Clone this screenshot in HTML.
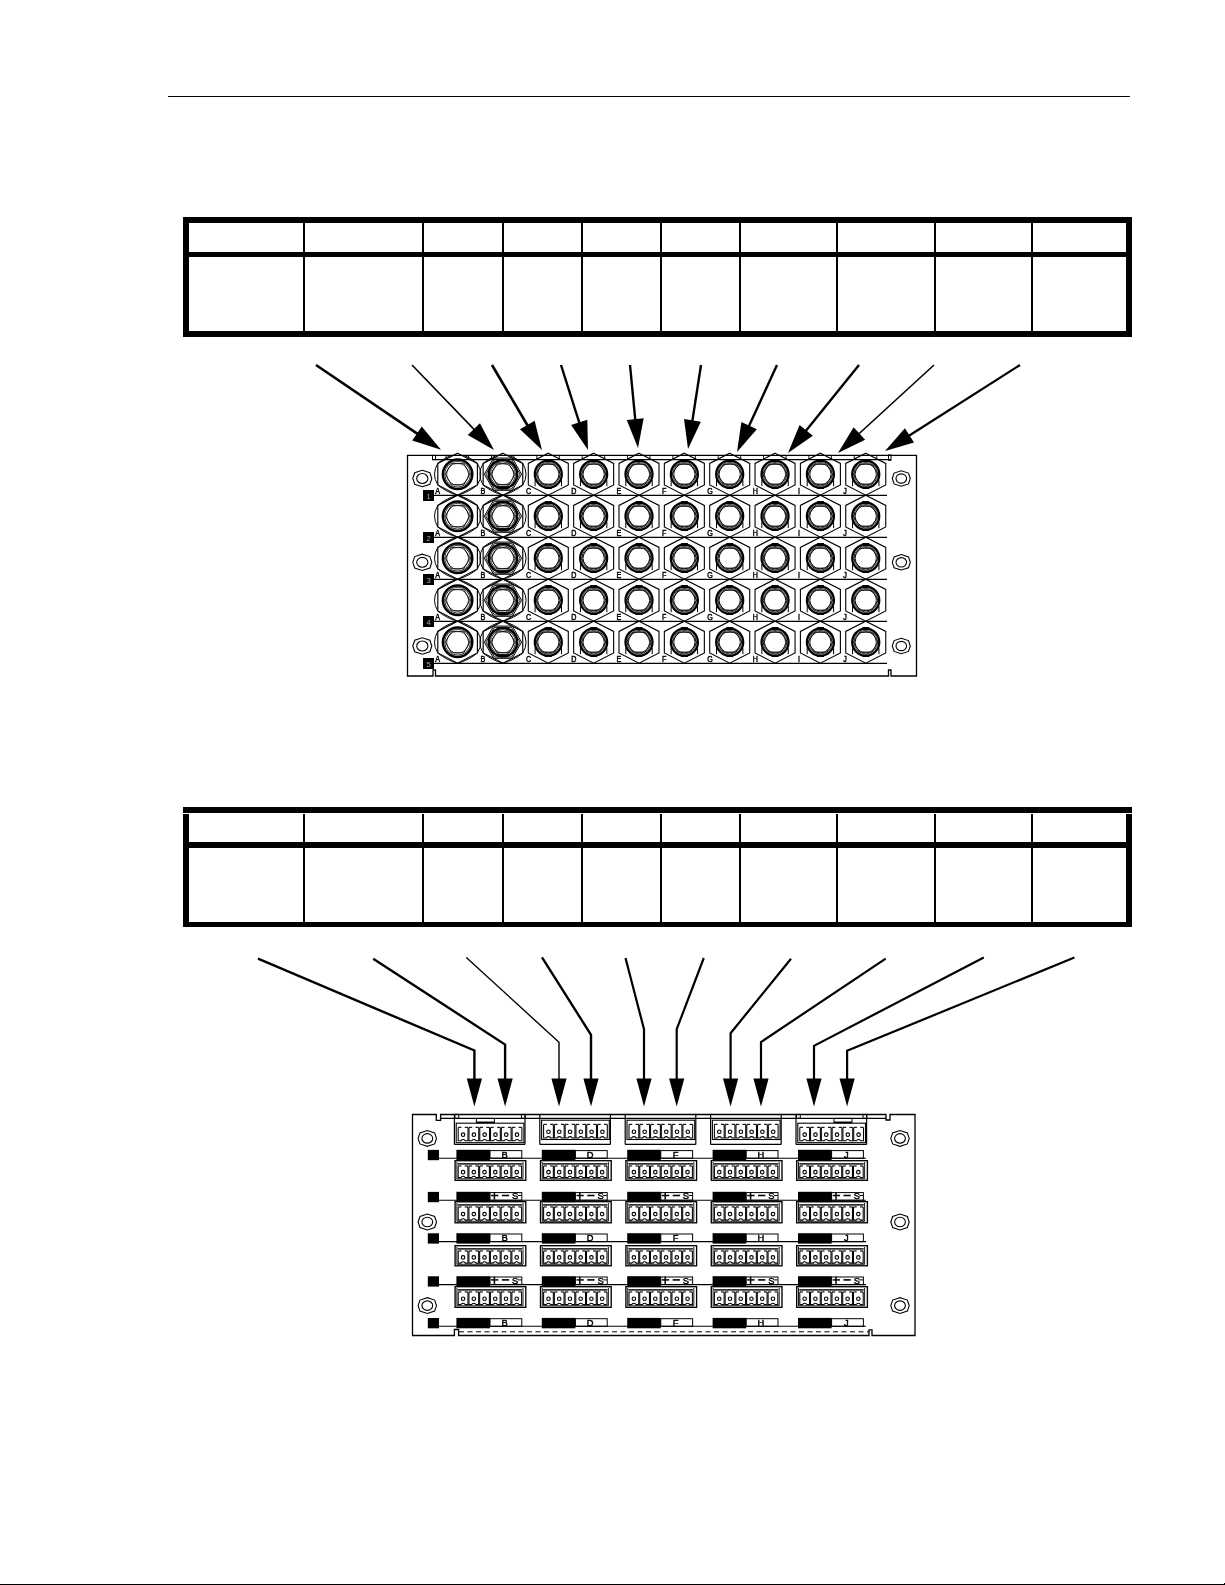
<!DOCTYPE html>
<html><head><meta charset="utf-8"><title>Panel</title>
<style>
html,body{margin:0;padding:0;background:#fff;}
body{width:1225px;height:1585px;overflow:hidden;position:relative;}
svg{position:absolute;left:0;top:0;filter:grayscale(100%);}
text{font-family:"Liberation Sans",sans-serif;}
</style></head><body>
<svg width="1225" height="1585" viewBox="0 0 1225 1585" shape-rendering="geometricPrecision">
<defs><clipPath id="p1clip"><rect x="407" y="456" width="510" height="220"/></clipPath></defs>
<rect x="168" y="96" width="962" height="1" fill="#000"/>
<rect x="0" y="1584" width="1225" height="1" fill="#000"/>
<rect x="1224" y="1583" width="1" height="1" fill="#000"/>
<rect x="183" y="217" width="949" height="6" fill="#000"/>
<rect x="183" y="223" width="6" height="114" fill="#000"/>
<rect x="1126" y="223" width="6" height="114" fill="#000"/>
<rect x="183" y="331" width="949" height="6" fill="#000"/>
<rect x="189" y="252" width="937" height="5" fill="#000"/>
<rect x="303" y="223" width="2" height="108" fill="#000"/>
<rect x="422" y="223" width="2" height="108" fill="#000"/>
<rect x="502" y="223" width="2" height="108" fill="#000"/>
<rect x="581" y="223" width="2" height="108" fill="#000"/>
<rect x="660" y="223" width="2" height="108" fill="#000"/>
<rect x="739" y="223" width="2" height="108" fill="#000"/>
<rect x="836" y="223" width="2" height="108" fill="#000"/>
<rect x="934" y="223" width="2" height="108" fill="#000"/>
<rect x="1031" y="223" width="2" height="108" fill="#000"/>
<rect x="183" y="807" width="949" height="6" fill="#000"/>
<rect x="183" y="814" width="6" height="113" fill="#000"/>
<rect x="1126" y="814" width="6" height="113" fill="#000"/>
<rect x="183" y="922" width="949" height="5" fill="#000"/>
<rect x="189" y="842" width="937" height="6" fill="#000"/>
<rect x="303" y="814" width="2" height="108" fill="#000"/>
<rect x="422" y="814" width="2" height="108" fill="#000"/>
<rect x="502" y="814" width="2" height="108" fill="#000"/>
<rect x="581" y="814" width="2" height="108" fill="#000"/>
<rect x="660" y="814" width="2" height="108" fill="#000"/>
<rect x="739" y="814" width="2" height="108" fill="#000"/>
<rect x="836" y="814" width="2" height="108" fill="#000"/>
<rect x="934" y="814" width="2" height="108" fill="#000"/>
<rect x="1031" y="814" width="2" height="108" fill="#000"/>
<polygon points="441,449.8 412.23,440.55 421.77,426.49" fill="#000"/>
<line x1="316" y1="365" x2="418.66" y2="434.64" stroke="#000" stroke-width="2.6"/>
<polygon points="494,450 467.75,435.03 479.98,423.23" fill="#000"/>
<line x1="412" y1="365" x2="475.25" y2="430.57" stroke="#000" stroke-width="1.6"/>
<polygon points="542,450 519.97,429.31 534.62,420.69" fill="#000"/>
<line x1="492" y1="365" x2="528.31" y2="426.73" stroke="#000" stroke-width="2.6"/>
<polygon points="588,450 571.12,424.93 587.32,419.79" fill="#000"/>
<line x1="561" y1="365" x2="579.83" y2="424.27" stroke="#000" stroke-width="2.4"/>
<polygon points="638,448 626.76,419.95 643.68,418.32" fill="#000"/>
<line x1="630" y1="365" x2="635.41" y2="421.12" stroke="#000" stroke-width="2.4"/>
<polygon points="688,449 684.04,419.04 700.84,421.64" fill="#000"/>
<line x1="701" y1="365" x2="692.13" y2="422.32" stroke="#000" stroke-width="2.4"/>
<polygon points="737,452 741.39,422.1 756.84,429.2" fill="#000"/>
<line x1="777" y1="365" x2="748.28" y2="427.47" stroke="#000" stroke-width="2.4"/>
<polygon points="788,453 799.59,425.09 812.83,435.77" fill="#000"/>
<line x1="859" y1="365" x2="804.95" y2="431.99" stroke="#000" stroke-width="2.4"/>
<polygon points="838,453 853.63,427.14 865.12,439.67" fill="#000"/>
<line x1="934" y1="365" x2="857.9" y2="434.76" stroke="#000" stroke-width="1.6"/>
<polygon points="885,451 904.89,428.25 914.03,442.59" fill="#000"/>
<line x1="1020" y1="365" x2="907.77" y2="436.49" stroke="#000" stroke-width="2.2"/>
<polyline points="258,958.7 474.4,1050.5 474.4,1080.6" fill="none" stroke="#000" stroke-width="2.4" stroke-linejoin="miter"/>
<polygon points="474.4,1106.6 466.8,1078.6 482,1078.6" fill="#000"/>
<polyline points="373.2,958.7 505.1,1044.6 505.1,1080.6" fill="none" stroke="#000" stroke-width="2.4" stroke-linejoin="miter"/>
<polygon points="505.1,1106.6 497.5,1078.6 512.7,1078.6" fill="#000"/>
<polyline points="466.3,957.4 559,1042.3 559,1080.6" fill="none" stroke="#000" stroke-width="1.4" stroke-linejoin="miter"/>
<polygon points="559,1106.6 551.4,1078.6 566.6,1078.6" fill="#000"/>
<polyline points="542,957.4 591,1034.8 591,1080.6" fill="none" stroke="#000" stroke-width="2.4" stroke-linejoin="miter"/>
<polygon points="591,1106.6 583.4,1078.6 598.6,1078.6" fill="#000"/>
<polyline points="625.5,958 644,1029.2 644,1080.6" fill="none" stroke="#000" stroke-width="2.2" stroke-linejoin="miter"/>
<polygon points="644,1106.6 636.4,1078.6 651.6,1078.6" fill="#000"/>
<polyline points="703.8,958 676.7,1029.2 676.7,1080.6" fill="none" stroke="#000" stroke-width="2.2" stroke-linejoin="miter"/>
<polygon points="676.7,1106.6 669.1,1078.6 684.3,1078.6" fill="#000"/>
<polyline points="791,958.7 730.6,1033.2 730.6,1080.6" fill="none" stroke="#000" stroke-width="2.2" stroke-linejoin="miter"/>
<polygon points="730.6,1106.6 723,1078.6 738.2,1078.6" fill="#000"/>
<polyline points="885.7,958.7 761,1042 761,1080.6" fill="none" stroke="#000" stroke-width="2.2" stroke-linejoin="miter"/>
<polygon points="761,1106.6 753.4,1078.6 768.6,1078.6" fill="#000"/>
<polyline points="983.8,957.5 814,1045.8 814,1080.6" fill="none" stroke="#000" stroke-width="2.2" stroke-linejoin="miter"/>
<polygon points="814,1106.6 806.4,1078.6 821.6,1078.6" fill="#000"/>
<polyline points="1074.4,957.5 847.1,1050.8 847.1,1080.6" fill="none" stroke="#000" stroke-width="2.2" stroke-linejoin="miter"/>
<polygon points="847.1,1106.6 839.5,1078.6 854.7,1078.6" fill="#000"/>
<path d="M407.5,455.4 H916.5 V676 H891 V670 H888.5 V676 H435.5 V670 H433 V676 H407.5 Z" fill="none" stroke="#000" stroke-width="1.3"/>
<line x1="432" y1="459.6" x2="891" y2="459.6" stroke="#000" stroke-width="1.1"/>
<line x1="446.1" y1="455.5" x2="446.1" y2="459.6" stroke="#000" stroke-width="0.9"/>
<line x1="468.6" y1="455.5" x2="468.6" y2="459.6" stroke="#000" stroke-width="0.9"/>
<line x1="491.45" y1="455.5" x2="491.45" y2="459.6" stroke="#000" stroke-width="0.9"/>
<line x1="513.95" y1="455.5" x2="513.95" y2="459.6" stroke="#000" stroke-width="0.9"/>
<line x1="536.8" y1="455.5" x2="536.8" y2="459.6" stroke="#000" stroke-width="0.9"/>
<line x1="559.3" y1="455.5" x2="559.3" y2="459.6" stroke="#000" stroke-width="0.9"/>
<line x1="582.15" y1="455.5" x2="582.15" y2="459.6" stroke="#000" stroke-width="0.9"/>
<line x1="604.65" y1="455.5" x2="604.65" y2="459.6" stroke="#000" stroke-width="0.9"/>
<line x1="627.5" y1="455.5" x2="627.5" y2="459.6" stroke="#000" stroke-width="0.9"/>
<line x1="650" y1="455.5" x2="650" y2="459.6" stroke="#000" stroke-width="0.9"/>
<line x1="672.85" y1="455.5" x2="672.85" y2="459.6" stroke="#000" stroke-width="0.9"/>
<line x1="695.35" y1="455.5" x2="695.35" y2="459.6" stroke="#000" stroke-width="0.9"/>
<line x1="718.2" y1="455.5" x2="718.2" y2="459.6" stroke="#000" stroke-width="0.9"/>
<line x1="740.7" y1="455.5" x2="740.7" y2="459.6" stroke="#000" stroke-width="0.9"/>
<line x1="763.55" y1="455.5" x2="763.55" y2="459.6" stroke="#000" stroke-width="0.9"/>
<line x1="786.05" y1="455.5" x2="786.05" y2="459.6" stroke="#000" stroke-width="0.9"/>
<line x1="808.9" y1="455.5" x2="808.9" y2="459.6" stroke="#000" stroke-width="0.9"/>
<line x1="831.4" y1="455.5" x2="831.4" y2="459.6" stroke="#000" stroke-width="0.9"/>
<line x1="854.25" y1="455.5" x2="854.25" y2="459.6" stroke="#000" stroke-width="0.9"/>
<line x1="876.75" y1="455.5" x2="876.75" y2="459.6" stroke="#000" stroke-width="0.9"/>
<rect x="432.5" y="455.4" width="3" height="4.2" fill="none" stroke="#000" stroke-width="1"/>
<rect x="888.5" y="455" width="2.5" height="5.3" fill="none" stroke="#000" stroke-width="1"/>
<polygon points="412.8,478.5 414.7,472.8 422.3,470.33 429.9,472.8 431.8,478.5 429.9,484.2 422.3,486.67 414.7,484.2" fill="none" stroke="#000" stroke-width="1.1"/>
<ellipse cx="422.3" cy="478.5" rx="5.6" ry="4.93" fill="none" stroke="#000" stroke-width="1.1"/>
<polygon points="892.3,478.5 894.1,473.1 901.3,470.76 908.5,473.1 910.3,478.5 908.5,483.9 901.3,486.24 894.1,483.9" fill="none" stroke="#000" stroke-width="1.1"/>
<ellipse cx="901.3" cy="478.5" rx="5.3" ry="4.66" fill="none" stroke="#000" stroke-width="1.1"/>
<polygon points="412.8,562.3 414.7,556.6 422.3,554.13 429.9,556.6 431.8,562.3 429.9,568 422.3,570.47 414.7,568" fill="none" stroke="#000" stroke-width="1.1"/>
<ellipse cx="422.3" cy="562.3" rx="5.6" ry="4.93" fill="none" stroke="#000" stroke-width="1.1"/>
<polygon points="892.3,562.3 894.1,556.9 901.3,554.56 908.5,556.9 910.3,562.3 908.5,567.7 901.3,570.04 894.1,567.7" fill="none" stroke="#000" stroke-width="1.1"/>
<ellipse cx="901.3" cy="562.3" rx="5.3" ry="4.66" fill="none" stroke="#000" stroke-width="1.1"/>
<polygon points="412.8,646 414.7,640.3 422.3,637.83 429.9,640.3 431.8,646 429.9,651.7 422.3,654.17 414.7,651.7" fill="none" stroke="#000" stroke-width="1.1"/>
<ellipse cx="422.3" cy="646" rx="5.6" ry="4.93" fill="none" stroke="#000" stroke-width="1.1"/>
<polygon points="892.3,646 894.1,640.6 901.3,638.26 908.5,640.6 910.3,646 908.5,651.4 901.3,653.74 894.1,651.4" fill="none" stroke="#000" stroke-width="1.1"/>
<ellipse cx="901.3" cy="646" rx="5.3" ry="4.66" fill="none" stroke="#000" stroke-width="1.1"/>
<line x1="434" y1="495.3" x2="887" y2="495.3" stroke="#000" stroke-width="1.2"/>
<rect x="423" y="490" width="11" height="11" fill="#000"/>
<text x="428.5" y="498.6" font-size="7.5" fill="#aaa" text-anchor="middle">1</text>
<polygon points="457.6,453.2 477.4,463.4 477.4,485 457.6,495.2 437.8,485 437.8,463.4" fill="none" stroke="#000" stroke-width="1.15"/>
<path d="M457.6,453.2 Q468.77,456.26 477.4,463.4 Q484,474.2 477.4,485 Q468.77,492.14 457.6,495.2 Q446.43,492.14 437.8,485 Q431.2,474.2 437.8,463.4 Q446.43,456.26 457.6,453.2" fill="none" stroke="#000" stroke-width="1" clip-path="url(#p1clip)"/>
<circle cx="457.6" cy="474.2" r="14.7" fill="none" stroke="#000" stroke-width="2.5"/>
<circle cx="457.6" cy="474.2" r="12.9" fill="none" stroke="#000" stroke-width="0.8"/>
<polygon points="469.8,474.2 463.7,484.77 451.5,484.77 445.4,474.2 451.5,463.63 463.7,463.63" fill="none" stroke="#000" stroke-width="0.8"/>
<circle cx="457.6" cy="474.2" r="11" fill="none" stroke="#000" stroke-width="0.8"/>
<text transform="translate(435.2,494.1) scale(0.85,1)" font-size="8.4" stroke="#000" stroke-width="0.45">A</text>
<polygon points="502.95,453.2 522.75,463.4 522.75,485 502.95,495.2 483.15,485 483.15,463.4" fill="none" stroke="#000" stroke-width="1.15"/>
<path d="M502.95,453.2 Q514.12,456.26 522.75,463.4 Q529.35,474.2 522.75,485 Q514.12,492.14 502.95,495.2 Q491.78,492.14 483.15,485 Q476.55,474.2 483.15,463.4 Q491.78,456.26 502.95,453.2" fill="none" stroke="#000" stroke-width="1" clip-path="url(#p1clip)"/>
<polygon points="521.55,474.2 512.25,490.31 493.65,490.31 484.35,474.2 493.65,458.09 512.25,458.09" fill="none" stroke="#000" stroke-width="1"/>
<polygon points="520.05,474.2 511.5,489.01 494.4,489.01 485.85,474.2 494.4,459.39 511.5,459.39" fill="none" stroke="#000" stroke-width="0.9"/>
<circle cx="502.95" cy="474.2" r="14.2" fill="none" stroke="#000" stroke-width="2.4"/>
<circle cx="502.95" cy="474.2" r="12.5" fill="none" stroke="#000" stroke-width="0.8"/>
<polygon points="514.95,474.2 508.95,484.59 496.95,484.59 490.95,474.2 496.95,463.81 508.95,463.81" fill="none" stroke="#000" stroke-width="0.8"/>
<circle cx="502.95" cy="474.2" r="10.8" fill="none" stroke="#000" stroke-width="0.8"/>
<rect x="497.95" y="486.2" width="10" height="3" fill="#000"/>
<text transform="translate(480.55,494.1) scale(0.85,1)" font-size="8.4" stroke="#000" stroke-width="0.45">B</text>
<polygon points="548.3,453.2 568.3,463.4 568.3,485 548.3,495.2 528.3,485 528.3,463.4" fill="none" stroke="#000" stroke-width="1.1"/>
<circle cx="548.3" cy="474.2" r="13.5" fill="none" stroke="#000" stroke-width="2.3"/>
<circle cx="548.3" cy="474.2" r="11.8" fill="none" stroke="#000" stroke-width="0.8"/>
<polygon points="560.6,474.2 554.45,484.07 542.15,484.07 536,474.2 542.15,464.33 554.45,464.33" fill="none" stroke="#000" stroke-width="0.8"/>
<circle cx="548.3" cy="474.2" r="10.6" fill="none" stroke="#000" stroke-width="0.9"/>
<rect x="544.8" y="459" width="7" height="3" fill="#000"/>
<rect x="544.8" y="486.8" width="7" height="2.2" fill="#000"/>
<line x1="535.1" y1="480.2" x2="535.1" y2="486.2" stroke="#000" stroke-width="1"/>
<line x1="561.5" y1="480.2" x2="561.5" y2="486.2" stroke="#000" stroke-width="1"/>
<text transform="translate(525.9,494.1) scale(0.85,1)" font-size="8.4" stroke="#000" stroke-width="0.45">C</text>
<polygon points="593.65,453.2 613.65,463.4 613.65,485 593.65,495.2 573.65,485 573.65,463.4" fill="none" stroke="#000" stroke-width="1.1"/>
<circle cx="593.65" cy="474.2" r="13.5" fill="none" stroke="#000" stroke-width="2.3"/>
<circle cx="593.65" cy="474.2" r="11.8" fill="none" stroke="#000" stroke-width="0.8"/>
<polygon points="605.95,474.2 599.8,484.07 587.5,484.07 581.35,474.2 587.5,464.33 599.8,464.33" fill="none" stroke="#000" stroke-width="0.8"/>
<circle cx="593.65" cy="474.2" r="10.6" fill="none" stroke="#000" stroke-width="0.9"/>
<rect x="590.15" y="459" width="7" height="3" fill="#000"/>
<rect x="590.15" y="486.8" width="7" height="2.2" fill="#000"/>
<line x1="580.45" y1="480.2" x2="580.45" y2="486.2" stroke="#000" stroke-width="1"/>
<line x1="606.85" y1="480.2" x2="606.85" y2="486.2" stroke="#000" stroke-width="1"/>
<text transform="translate(571.25,494.1) scale(0.85,1)" font-size="8.4" stroke="#000" stroke-width="0.45">D</text>
<polygon points="639,453.2 659,463.4 659,485 639,495.2 619,485 619,463.4" fill="none" stroke="#000" stroke-width="1.1"/>
<circle cx="639" cy="474.2" r="13.5" fill="none" stroke="#000" stroke-width="2.3"/>
<circle cx="639" cy="474.2" r="11.8" fill="none" stroke="#000" stroke-width="0.8"/>
<polygon points="651.3,474.2 645.15,484.07 632.85,484.07 626.7,474.2 632.85,464.33 645.15,464.33" fill="none" stroke="#000" stroke-width="0.8"/>
<circle cx="639" cy="474.2" r="10.6" fill="none" stroke="#000" stroke-width="0.9"/>
<rect x="635.5" y="459" width="7" height="3" fill="#000"/>
<rect x="635.5" y="486.8" width="7" height="2.2" fill="#000"/>
<line x1="625.8" y1="480.2" x2="625.8" y2="486.2" stroke="#000" stroke-width="1"/>
<line x1="652.2" y1="480.2" x2="652.2" y2="486.2" stroke="#000" stroke-width="1"/>
<text transform="translate(616.6,494.1) scale(0.85,1)" font-size="8.4" stroke="#000" stroke-width="0.45">E</text>
<polygon points="684.35,453.2 704.35,463.4 704.35,485 684.35,495.2 664.35,485 664.35,463.4" fill="none" stroke="#000" stroke-width="1.1"/>
<circle cx="684.35" cy="474.2" r="13.5" fill="none" stroke="#000" stroke-width="2.3"/>
<circle cx="684.35" cy="474.2" r="11.8" fill="none" stroke="#000" stroke-width="0.8"/>
<polygon points="696.65,474.2 690.5,484.07 678.2,484.07 672.05,474.2 678.2,464.33 690.5,464.33" fill="none" stroke="#000" stroke-width="0.8"/>
<circle cx="684.35" cy="474.2" r="10.6" fill="none" stroke="#000" stroke-width="0.9"/>
<rect x="680.85" y="459" width="7" height="3" fill="#000"/>
<rect x="680.85" y="486.8" width="7" height="2.2" fill="#000"/>
<line x1="671.15" y1="480.2" x2="671.15" y2="486.2" stroke="#000" stroke-width="1"/>
<line x1="697.55" y1="480.2" x2="697.55" y2="486.2" stroke="#000" stroke-width="1"/>
<text transform="translate(661.95,494.1) scale(0.85,1)" font-size="8.4" stroke="#000" stroke-width="0.45">F</text>
<polygon points="729.7,453.2 749.7,463.4 749.7,485 729.7,495.2 709.7,485 709.7,463.4" fill="none" stroke="#000" stroke-width="1.1"/>
<circle cx="729.7" cy="474.2" r="13.5" fill="none" stroke="#000" stroke-width="2.3"/>
<circle cx="729.7" cy="474.2" r="11.8" fill="none" stroke="#000" stroke-width="0.8"/>
<polygon points="742,474.2 735.85,484.07 723.55,484.07 717.4,474.2 723.55,464.33 735.85,464.33" fill="none" stroke="#000" stroke-width="0.8"/>
<circle cx="729.7" cy="474.2" r="10.6" fill="none" stroke="#000" stroke-width="0.9"/>
<rect x="726.2" y="459" width="7" height="3" fill="#000"/>
<rect x="726.2" y="486.8" width="7" height="2.2" fill="#000"/>
<line x1="716.5" y1="480.2" x2="716.5" y2="486.2" stroke="#000" stroke-width="1"/>
<line x1="742.9" y1="480.2" x2="742.9" y2="486.2" stroke="#000" stroke-width="1"/>
<text transform="translate(707.3,494.1) scale(0.85,1)" font-size="8.4" stroke="#000" stroke-width="0.45">G</text>
<polygon points="775.05,453.2 795.05,463.4 795.05,485 775.05,495.2 755.05,485 755.05,463.4" fill="none" stroke="#000" stroke-width="1.1"/>
<circle cx="775.05" cy="474.2" r="13.5" fill="none" stroke="#000" stroke-width="2.3"/>
<circle cx="775.05" cy="474.2" r="11.8" fill="none" stroke="#000" stroke-width="0.8"/>
<polygon points="787.35,474.2 781.2,484.07 768.9,484.07 762.75,474.2 768.9,464.33 781.2,464.33" fill="none" stroke="#000" stroke-width="0.8"/>
<circle cx="775.05" cy="474.2" r="10.6" fill="none" stroke="#000" stroke-width="0.9"/>
<rect x="771.55" y="459" width="7" height="3" fill="#000"/>
<rect x="771.55" y="486.8" width="7" height="2.2" fill="#000"/>
<line x1="761.85" y1="480.2" x2="761.85" y2="486.2" stroke="#000" stroke-width="1"/>
<line x1="788.25" y1="480.2" x2="788.25" y2="486.2" stroke="#000" stroke-width="1"/>
<text transform="translate(752.65,494.1) scale(0.85,1)" font-size="8.4" stroke="#000" stroke-width="0.45">H</text>
<polygon points="820.4,453.2 840.4,463.4 840.4,485 820.4,495.2 800.4,485 800.4,463.4" fill="none" stroke="#000" stroke-width="1.1"/>
<circle cx="820.4" cy="474.2" r="13.5" fill="none" stroke="#000" stroke-width="2.3"/>
<circle cx="820.4" cy="474.2" r="11.8" fill="none" stroke="#000" stroke-width="0.8"/>
<polygon points="832.7,474.2 826.55,484.07 814.25,484.07 808.1,474.2 814.25,464.33 826.55,464.33" fill="none" stroke="#000" stroke-width="0.8"/>
<circle cx="820.4" cy="474.2" r="10.6" fill="none" stroke="#000" stroke-width="0.9"/>
<rect x="816.9" y="459" width="7" height="3" fill="#000"/>
<rect x="816.9" y="486.8" width="7" height="2.2" fill="#000"/>
<line x1="807.2" y1="480.2" x2="807.2" y2="486.2" stroke="#000" stroke-width="1"/>
<line x1="833.6" y1="480.2" x2="833.6" y2="486.2" stroke="#000" stroke-width="1"/>
<text transform="translate(798,494.1) scale(0.85,1)" font-size="8.4" stroke="#000" stroke-width="0.45">I</text>
<polygon points="865.75,453.2 885.75,463.4 885.75,485 865.75,495.2 845.75,485 845.75,463.4" fill="none" stroke="#000" stroke-width="1.1"/>
<circle cx="865.75" cy="474.2" r="13.5" fill="none" stroke="#000" stroke-width="2.3"/>
<circle cx="865.75" cy="474.2" r="11.8" fill="none" stroke="#000" stroke-width="0.8"/>
<polygon points="878.05,474.2 871.9,484.07 859.6,484.07 853.45,474.2 859.6,464.33 871.9,464.33" fill="none" stroke="#000" stroke-width="0.8"/>
<circle cx="865.75" cy="474.2" r="10.6" fill="none" stroke="#000" stroke-width="0.9"/>
<rect x="862.25" y="459" width="7" height="3" fill="#000"/>
<rect x="862.25" y="486.8" width="7" height="2.2" fill="#000"/>
<line x1="852.55" y1="480.2" x2="852.55" y2="486.2" stroke="#000" stroke-width="1"/>
<line x1="878.95" y1="480.2" x2="878.95" y2="486.2" stroke="#000" stroke-width="1"/>
<text transform="translate(843.35,494.1) scale(0.85,1)" font-size="8.4" stroke="#000" stroke-width="0.45">J</text>
<line x1="434" y1="537.3" x2="887" y2="537.3" stroke="#000" stroke-width="1.2"/>
<rect x="423" y="532" width="11" height="11" fill="#000"/>
<text x="428.5" y="540.6" font-size="7.5" fill="#aaa" text-anchor="middle">2</text>
<polygon points="457.6,495.2 477.4,505.4 477.4,527 457.6,537.2 437.8,527 437.8,505.4" fill="none" stroke="#000" stroke-width="1.15"/>
<path d="M457.6,495.2 Q468.77,498.26 477.4,505.4 Q484,516.2 477.4,527 Q468.77,534.14 457.6,537.2 Q446.43,534.14 437.8,527 Q431.2,516.2 437.8,505.4 Q446.43,498.26 457.6,495.2" fill="none" stroke="#000" stroke-width="1" clip-path="url(#p1clip)"/>
<circle cx="457.6" cy="516.2" r="14.7" fill="none" stroke="#000" stroke-width="2.5"/>
<circle cx="457.6" cy="516.2" r="12.9" fill="none" stroke="#000" stroke-width="0.8"/>
<polygon points="469.8,516.2 463.7,526.77 451.5,526.77 445.4,516.2 451.5,505.63 463.7,505.63" fill="none" stroke="#000" stroke-width="0.8"/>
<circle cx="457.6" cy="516.2" r="11" fill="none" stroke="#000" stroke-width="0.8"/>
<text transform="translate(435.2,536.1) scale(0.85,1)" font-size="8.4" stroke="#000" stroke-width="0.45">A</text>
<polygon points="502.95,495.2 522.75,505.4 522.75,527 502.95,537.2 483.15,527 483.15,505.4" fill="none" stroke="#000" stroke-width="1.15"/>
<path d="M502.95,495.2 Q514.12,498.26 522.75,505.4 Q529.35,516.2 522.75,527 Q514.12,534.14 502.95,537.2 Q491.78,534.14 483.15,527 Q476.55,516.2 483.15,505.4 Q491.78,498.26 502.95,495.2" fill="none" stroke="#000" stroke-width="1" clip-path="url(#p1clip)"/>
<polygon points="521.55,516.2 512.25,532.31 493.65,532.31 484.35,516.2 493.65,500.09 512.25,500.09" fill="none" stroke="#000" stroke-width="1"/>
<polygon points="520.05,516.2 511.5,531.01 494.4,531.01 485.85,516.2 494.4,501.39 511.5,501.39" fill="none" stroke="#000" stroke-width="0.9"/>
<circle cx="502.95" cy="516.2" r="14.2" fill="none" stroke="#000" stroke-width="2.4"/>
<circle cx="502.95" cy="516.2" r="12.5" fill="none" stroke="#000" stroke-width="0.8"/>
<polygon points="514.95,516.2 508.95,526.59 496.95,526.59 490.95,516.2 496.95,505.81 508.95,505.81" fill="none" stroke="#000" stroke-width="0.8"/>
<circle cx="502.95" cy="516.2" r="10.8" fill="none" stroke="#000" stroke-width="0.8"/>
<rect x="497.95" y="528.2" width="10" height="3" fill="#000"/>
<text transform="translate(480.55,536.1) scale(0.85,1)" font-size="8.4" stroke="#000" stroke-width="0.45">B</text>
<polygon points="548.3,495.2 568.3,505.4 568.3,527 548.3,537.2 528.3,527 528.3,505.4" fill="none" stroke="#000" stroke-width="1.1"/>
<circle cx="548.3" cy="516.2" r="13.5" fill="none" stroke="#000" stroke-width="2.3"/>
<circle cx="548.3" cy="516.2" r="11.8" fill="none" stroke="#000" stroke-width="0.8"/>
<polygon points="560.6,516.2 554.45,526.07 542.15,526.07 536,516.2 542.15,506.33 554.45,506.33" fill="none" stroke="#000" stroke-width="0.8"/>
<circle cx="548.3" cy="516.2" r="10.6" fill="none" stroke="#000" stroke-width="0.9"/>
<rect x="544.8" y="501" width="7" height="3" fill="#000"/>
<rect x="544.8" y="528.8" width="7" height="2.2" fill="#000"/>
<line x1="535.1" y1="522.2" x2="535.1" y2="528.2" stroke="#000" stroke-width="1"/>
<line x1="561.5" y1="522.2" x2="561.5" y2="528.2" stroke="#000" stroke-width="1"/>
<text transform="translate(525.9,536.1) scale(0.85,1)" font-size="8.4" stroke="#000" stroke-width="0.45">C</text>
<polygon points="593.65,495.2 613.65,505.4 613.65,527 593.65,537.2 573.65,527 573.65,505.4" fill="none" stroke="#000" stroke-width="1.1"/>
<circle cx="593.65" cy="516.2" r="13.5" fill="none" stroke="#000" stroke-width="2.3"/>
<circle cx="593.65" cy="516.2" r="11.8" fill="none" stroke="#000" stroke-width="0.8"/>
<polygon points="605.95,516.2 599.8,526.07 587.5,526.07 581.35,516.2 587.5,506.33 599.8,506.33" fill="none" stroke="#000" stroke-width="0.8"/>
<circle cx="593.65" cy="516.2" r="10.6" fill="none" stroke="#000" stroke-width="0.9"/>
<rect x="590.15" y="501" width="7" height="3" fill="#000"/>
<rect x="590.15" y="528.8" width="7" height="2.2" fill="#000"/>
<line x1="580.45" y1="522.2" x2="580.45" y2="528.2" stroke="#000" stroke-width="1"/>
<line x1="606.85" y1="522.2" x2="606.85" y2="528.2" stroke="#000" stroke-width="1"/>
<text transform="translate(571.25,536.1) scale(0.85,1)" font-size="8.4" stroke="#000" stroke-width="0.45">D</text>
<polygon points="639,495.2 659,505.4 659,527 639,537.2 619,527 619,505.4" fill="none" stroke="#000" stroke-width="1.1"/>
<circle cx="639" cy="516.2" r="13.5" fill="none" stroke="#000" stroke-width="2.3"/>
<circle cx="639" cy="516.2" r="11.8" fill="none" stroke="#000" stroke-width="0.8"/>
<polygon points="651.3,516.2 645.15,526.07 632.85,526.07 626.7,516.2 632.85,506.33 645.15,506.33" fill="none" stroke="#000" stroke-width="0.8"/>
<circle cx="639" cy="516.2" r="10.6" fill="none" stroke="#000" stroke-width="0.9"/>
<rect x="635.5" y="501" width="7" height="3" fill="#000"/>
<rect x="635.5" y="528.8" width="7" height="2.2" fill="#000"/>
<line x1="625.8" y1="522.2" x2="625.8" y2="528.2" stroke="#000" stroke-width="1"/>
<line x1="652.2" y1="522.2" x2="652.2" y2="528.2" stroke="#000" stroke-width="1"/>
<text transform="translate(616.6,536.1) scale(0.85,1)" font-size="8.4" stroke="#000" stroke-width="0.45">E</text>
<polygon points="684.35,495.2 704.35,505.4 704.35,527 684.35,537.2 664.35,527 664.35,505.4" fill="none" stroke="#000" stroke-width="1.1"/>
<circle cx="684.35" cy="516.2" r="13.5" fill="none" stroke="#000" stroke-width="2.3"/>
<circle cx="684.35" cy="516.2" r="11.8" fill="none" stroke="#000" stroke-width="0.8"/>
<polygon points="696.65,516.2 690.5,526.07 678.2,526.07 672.05,516.2 678.2,506.33 690.5,506.33" fill="none" stroke="#000" stroke-width="0.8"/>
<circle cx="684.35" cy="516.2" r="10.6" fill="none" stroke="#000" stroke-width="0.9"/>
<rect x="680.85" y="501" width="7" height="3" fill="#000"/>
<rect x="680.85" y="528.8" width="7" height="2.2" fill="#000"/>
<line x1="671.15" y1="522.2" x2="671.15" y2="528.2" stroke="#000" stroke-width="1"/>
<line x1="697.55" y1="522.2" x2="697.55" y2="528.2" stroke="#000" stroke-width="1"/>
<text transform="translate(661.95,536.1) scale(0.85,1)" font-size="8.4" stroke="#000" stroke-width="0.45">F</text>
<polygon points="729.7,495.2 749.7,505.4 749.7,527 729.7,537.2 709.7,527 709.7,505.4" fill="none" stroke="#000" stroke-width="1.1"/>
<circle cx="729.7" cy="516.2" r="13.5" fill="none" stroke="#000" stroke-width="2.3"/>
<circle cx="729.7" cy="516.2" r="11.8" fill="none" stroke="#000" stroke-width="0.8"/>
<polygon points="742,516.2 735.85,526.07 723.55,526.07 717.4,516.2 723.55,506.33 735.85,506.33" fill="none" stroke="#000" stroke-width="0.8"/>
<circle cx="729.7" cy="516.2" r="10.6" fill="none" stroke="#000" stroke-width="0.9"/>
<rect x="726.2" y="501" width="7" height="3" fill="#000"/>
<rect x="726.2" y="528.8" width="7" height="2.2" fill="#000"/>
<line x1="716.5" y1="522.2" x2="716.5" y2="528.2" stroke="#000" stroke-width="1"/>
<line x1="742.9" y1="522.2" x2="742.9" y2="528.2" stroke="#000" stroke-width="1"/>
<text transform="translate(707.3,536.1) scale(0.85,1)" font-size="8.4" stroke="#000" stroke-width="0.45">G</text>
<polygon points="775.05,495.2 795.05,505.4 795.05,527 775.05,537.2 755.05,527 755.05,505.4" fill="none" stroke="#000" stroke-width="1.1"/>
<circle cx="775.05" cy="516.2" r="13.5" fill="none" stroke="#000" stroke-width="2.3"/>
<circle cx="775.05" cy="516.2" r="11.8" fill="none" stroke="#000" stroke-width="0.8"/>
<polygon points="787.35,516.2 781.2,526.07 768.9,526.07 762.75,516.2 768.9,506.33 781.2,506.33" fill="none" stroke="#000" stroke-width="0.8"/>
<circle cx="775.05" cy="516.2" r="10.6" fill="none" stroke="#000" stroke-width="0.9"/>
<rect x="771.55" y="501" width="7" height="3" fill="#000"/>
<rect x="771.55" y="528.8" width="7" height="2.2" fill="#000"/>
<line x1="761.85" y1="522.2" x2="761.85" y2="528.2" stroke="#000" stroke-width="1"/>
<line x1="788.25" y1="522.2" x2="788.25" y2="528.2" stroke="#000" stroke-width="1"/>
<text transform="translate(752.65,536.1) scale(0.85,1)" font-size="8.4" stroke="#000" stroke-width="0.45">H</text>
<polygon points="820.4,495.2 840.4,505.4 840.4,527 820.4,537.2 800.4,527 800.4,505.4" fill="none" stroke="#000" stroke-width="1.1"/>
<circle cx="820.4" cy="516.2" r="13.5" fill="none" stroke="#000" stroke-width="2.3"/>
<circle cx="820.4" cy="516.2" r="11.8" fill="none" stroke="#000" stroke-width="0.8"/>
<polygon points="832.7,516.2 826.55,526.07 814.25,526.07 808.1,516.2 814.25,506.33 826.55,506.33" fill="none" stroke="#000" stroke-width="0.8"/>
<circle cx="820.4" cy="516.2" r="10.6" fill="none" stroke="#000" stroke-width="0.9"/>
<rect x="816.9" y="501" width="7" height="3" fill="#000"/>
<rect x="816.9" y="528.8" width="7" height="2.2" fill="#000"/>
<line x1="807.2" y1="522.2" x2="807.2" y2="528.2" stroke="#000" stroke-width="1"/>
<line x1="833.6" y1="522.2" x2="833.6" y2="528.2" stroke="#000" stroke-width="1"/>
<text transform="translate(798,536.1) scale(0.85,1)" font-size="8.4" stroke="#000" stroke-width="0.45">I</text>
<polygon points="865.75,495.2 885.75,505.4 885.75,527 865.75,537.2 845.75,527 845.75,505.4" fill="none" stroke="#000" stroke-width="1.1"/>
<circle cx="865.75" cy="516.2" r="13.5" fill="none" stroke="#000" stroke-width="2.3"/>
<circle cx="865.75" cy="516.2" r="11.8" fill="none" stroke="#000" stroke-width="0.8"/>
<polygon points="878.05,516.2 871.9,526.07 859.6,526.07 853.45,516.2 859.6,506.33 871.9,506.33" fill="none" stroke="#000" stroke-width="0.8"/>
<circle cx="865.75" cy="516.2" r="10.6" fill="none" stroke="#000" stroke-width="0.9"/>
<rect x="862.25" y="501" width="7" height="3" fill="#000"/>
<rect x="862.25" y="528.8" width="7" height="2.2" fill="#000"/>
<line x1="852.55" y1="522.2" x2="852.55" y2="528.2" stroke="#000" stroke-width="1"/>
<line x1="878.95" y1="522.2" x2="878.95" y2="528.2" stroke="#000" stroke-width="1"/>
<text transform="translate(843.35,536.1) scale(0.85,1)" font-size="8.4" stroke="#000" stroke-width="0.45">J</text>
<line x1="434" y1="579.3" x2="887" y2="579.3" stroke="#000" stroke-width="1.2"/>
<rect x="423" y="574" width="11" height="11" fill="#000"/>
<text x="428.5" y="582.6" font-size="7.5" fill="#aaa" text-anchor="middle">3</text>
<polygon points="457.6,537.2 477.4,547.4 477.4,569 457.6,579.2 437.8,569 437.8,547.4" fill="none" stroke="#000" stroke-width="1.15"/>
<path d="M457.6,537.2 Q468.77,540.26 477.4,547.4 Q484,558.2 477.4,569 Q468.77,576.14 457.6,579.2 Q446.43,576.14 437.8,569 Q431.2,558.2 437.8,547.4 Q446.43,540.26 457.6,537.2" fill="none" stroke="#000" stroke-width="1" clip-path="url(#p1clip)"/>
<circle cx="457.6" cy="558.2" r="14.7" fill="none" stroke="#000" stroke-width="2.5"/>
<circle cx="457.6" cy="558.2" r="12.9" fill="none" stroke="#000" stroke-width="0.8"/>
<polygon points="469.8,558.2 463.7,568.77 451.5,568.77 445.4,558.2 451.5,547.63 463.7,547.63" fill="none" stroke="#000" stroke-width="0.8"/>
<circle cx="457.6" cy="558.2" r="11" fill="none" stroke="#000" stroke-width="0.8"/>
<text transform="translate(435.2,578.1) scale(0.85,1)" font-size="8.4" stroke="#000" stroke-width="0.45">A</text>
<polygon points="502.95,537.2 522.75,547.4 522.75,569 502.95,579.2 483.15,569 483.15,547.4" fill="none" stroke="#000" stroke-width="1.15"/>
<path d="M502.95,537.2 Q514.12,540.26 522.75,547.4 Q529.35,558.2 522.75,569 Q514.12,576.14 502.95,579.2 Q491.78,576.14 483.15,569 Q476.55,558.2 483.15,547.4 Q491.78,540.26 502.95,537.2" fill="none" stroke="#000" stroke-width="1" clip-path="url(#p1clip)"/>
<polygon points="521.55,558.2 512.25,574.31 493.65,574.31 484.35,558.2 493.65,542.09 512.25,542.09" fill="none" stroke="#000" stroke-width="1"/>
<polygon points="520.05,558.2 511.5,573.01 494.4,573.01 485.85,558.2 494.4,543.39 511.5,543.39" fill="none" stroke="#000" stroke-width="0.9"/>
<circle cx="502.95" cy="558.2" r="14.2" fill="none" stroke="#000" stroke-width="2.4"/>
<circle cx="502.95" cy="558.2" r="12.5" fill="none" stroke="#000" stroke-width="0.8"/>
<polygon points="514.95,558.2 508.95,568.59 496.95,568.59 490.95,558.2 496.95,547.81 508.95,547.81" fill="none" stroke="#000" stroke-width="0.8"/>
<circle cx="502.95" cy="558.2" r="10.8" fill="none" stroke="#000" stroke-width="0.8"/>
<rect x="497.95" y="570.2" width="10" height="3" fill="#000"/>
<text transform="translate(480.55,578.1) scale(0.85,1)" font-size="8.4" stroke="#000" stroke-width="0.45">B</text>
<polygon points="548.3,537.2 568.3,547.4 568.3,569 548.3,579.2 528.3,569 528.3,547.4" fill="none" stroke="#000" stroke-width="1.1"/>
<circle cx="548.3" cy="558.2" r="13.5" fill="none" stroke="#000" stroke-width="2.3"/>
<circle cx="548.3" cy="558.2" r="11.8" fill="none" stroke="#000" stroke-width="0.8"/>
<polygon points="560.6,558.2 554.45,568.07 542.15,568.07 536,558.2 542.15,548.33 554.45,548.33" fill="none" stroke="#000" stroke-width="0.8"/>
<circle cx="548.3" cy="558.2" r="10.6" fill="none" stroke="#000" stroke-width="0.9"/>
<rect x="544.8" y="543" width="7" height="3" fill="#000"/>
<rect x="544.8" y="570.8" width="7" height="2.2" fill="#000"/>
<line x1="535.1" y1="564.2" x2="535.1" y2="570.2" stroke="#000" stroke-width="1"/>
<line x1="561.5" y1="564.2" x2="561.5" y2="570.2" stroke="#000" stroke-width="1"/>
<text transform="translate(525.9,578.1) scale(0.85,1)" font-size="8.4" stroke="#000" stroke-width="0.45">C</text>
<polygon points="593.65,537.2 613.65,547.4 613.65,569 593.65,579.2 573.65,569 573.65,547.4" fill="none" stroke="#000" stroke-width="1.1"/>
<circle cx="593.65" cy="558.2" r="13.5" fill="none" stroke="#000" stroke-width="2.3"/>
<circle cx="593.65" cy="558.2" r="11.8" fill="none" stroke="#000" stroke-width="0.8"/>
<polygon points="605.95,558.2 599.8,568.07 587.5,568.07 581.35,558.2 587.5,548.33 599.8,548.33" fill="none" stroke="#000" stroke-width="0.8"/>
<circle cx="593.65" cy="558.2" r="10.6" fill="none" stroke="#000" stroke-width="0.9"/>
<rect x="590.15" y="543" width="7" height="3" fill="#000"/>
<rect x="590.15" y="570.8" width="7" height="2.2" fill="#000"/>
<line x1="580.45" y1="564.2" x2="580.45" y2="570.2" stroke="#000" stroke-width="1"/>
<line x1="606.85" y1="564.2" x2="606.85" y2="570.2" stroke="#000" stroke-width="1"/>
<text transform="translate(571.25,578.1) scale(0.85,1)" font-size="8.4" stroke="#000" stroke-width="0.45">D</text>
<polygon points="639,537.2 659,547.4 659,569 639,579.2 619,569 619,547.4" fill="none" stroke="#000" stroke-width="1.1"/>
<circle cx="639" cy="558.2" r="13.5" fill="none" stroke="#000" stroke-width="2.3"/>
<circle cx="639" cy="558.2" r="11.8" fill="none" stroke="#000" stroke-width="0.8"/>
<polygon points="651.3,558.2 645.15,568.07 632.85,568.07 626.7,558.2 632.85,548.33 645.15,548.33" fill="none" stroke="#000" stroke-width="0.8"/>
<circle cx="639" cy="558.2" r="10.6" fill="none" stroke="#000" stroke-width="0.9"/>
<rect x="635.5" y="543" width="7" height="3" fill="#000"/>
<rect x="635.5" y="570.8" width="7" height="2.2" fill="#000"/>
<line x1="625.8" y1="564.2" x2="625.8" y2="570.2" stroke="#000" stroke-width="1"/>
<line x1="652.2" y1="564.2" x2="652.2" y2="570.2" stroke="#000" stroke-width="1"/>
<text transform="translate(616.6,578.1) scale(0.85,1)" font-size="8.4" stroke="#000" stroke-width="0.45">E</text>
<polygon points="684.35,537.2 704.35,547.4 704.35,569 684.35,579.2 664.35,569 664.35,547.4" fill="none" stroke="#000" stroke-width="1.1"/>
<circle cx="684.35" cy="558.2" r="13.5" fill="none" stroke="#000" stroke-width="2.3"/>
<circle cx="684.35" cy="558.2" r="11.8" fill="none" stroke="#000" stroke-width="0.8"/>
<polygon points="696.65,558.2 690.5,568.07 678.2,568.07 672.05,558.2 678.2,548.33 690.5,548.33" fill="none" stroke="#000" stroke-width="0.8"/>
<circle cx="684.35" cy="558.2" r="10.6" fill="none" stroke="#000" stroke-width="0.9"/>
<rect x="680.85" y="543" width="7" height="3" fill="#000"/>
<rect x="680.85" y="570.8" width="7" height="2.2" fill="#000"/>
<line x1="671.15" y1="564.2" x2="671.15" y2="570.2" stroke="#000" stroke-width="1"/>
<line x1="697.55" y1="564.2" x2="697.55" y2="570.2" stroke="#000" stroke-width="1"/>
<text transform="translate(661.95,578.1) scale(0.85,1)" font-size="8.4" stroke="#000" stroke-width="0.45">F</text>
<polygon points="729.7,537.2 749.7,547.4 749.7,569 729.7,579.2 709.7,569 709.7,547.4" fill="none" stroke="#000" stroke-width="1.1"/>
<circle cx="729.7" cy="558.2" r="13.5" fill="none" stroke="#000" stroke-width="2.3"/>
<circle cx="729.7" cy="558.2" r="11.8" fill="none" stroke="#000" stroke-width="0.8"/>
<polygon points="742,558.2 735.85,568.07 723.55,568.07 717.4,558.2 723.55,548.33 735.85,548.33" fill="none" stroke="#000" stroke-width="0.8"/>
<circle cx="729.7" cy="558.2" r="10.6" fill="none" stroke="#000" stroke-width="0.9"/>
<rect x="726.2" y="543" width="7" height="3" fill="#000"/>
<rect x="726.2" y="570.8" width="7" height="2.2" fill="#000"/>
<line x1="716.5" y1="564.2" x2="716.5" y2="570.2" stroke="#000" stroke-width="1"/>
<line x1="742.9" y1="564.2" x2="742.9" y2="570.2" stroke="#000" stroke-width="1"/>
<text transform="translate(707.3,578.1) scale(0.85,1)" font-size="8.4" stroke="#000" stroke-width="0.45">G</text>
<polygon points="775.05,537.2 795.05,547.4 795.05,569 775.05,579.2 755.05,569 755.05,547.4" fill="none" stroke="#000" stroke-width="1.1"/>
<circle cx="775.05" cy="558.2" r="13.5" fill="none" stroke="#000" stroke-width="2.3"/>
<circle cx="775.05" cy="558.2" r="11.8" fill="none" stroke="#000" stroke-width="0.8"/>
<polygon points="787.35,558.2 781.2,568.07 768.9,568.07 762.75,558.2 768.9,548.33 781.2,548.33" fill="none" stroke="#000" stroke-width="0.8"/>
<circle cx="775.05" cy="558.2" r="10.6" fill="none" stroke="#000" stroke-width="0.9"/>
<rect x="771.55" y="543" width="7" height="3" fill="#000"/>
<rect x="771.55" y="570.8" width="7" height="2.2" fill="#000"/>
<line x1="761.85" y1="564.2" x2="761.85" y2="570.2" stroke="#000" stroke-width="1"/>
<line x1="788.25" y1="564.2" x2="788.25" y2="570.2" stroke="#000" stroke-width="1"/>
<text transform="translate(752.65,578.1) scale(0.85,1)" font-size="8.4" stroke="#000" stroke-width="0.45">H</text>
<polygon points="820.4,537.2 840.4,547.4 840.4,569 820.4,579.2 800.4,569 800.4,547.4" fill="none" stroke="#000" stroke-width="1.1"/>
<circle cx="820.4" cy="558.2" r="13.5" fill="none" stroke="#000" stroke-width="2.3"/>
<circle cx="820.4" cy="558.2" r="11.8" fill="none" stroke="#000" stroke-width="0.8"/>
<polygon points="832.7,558.2 826.55,568.07 814.25,568.07 808.1,558.2 814.25,548.33 826.55,548.33" fill="none" stroke="#000" stroke-width="0.8"/>
<circle cx="820.4" cy="558.2" r="10.6" fill="none" stroke="#000" stroke-width="0.9"/>
<rect x="816.9" y="543" width="7" height="3" fill="#000"/>
<rect x="816.9" y="570.8" width="7" height="2.2" fill="#000"/>
<line x1="807.2" y1="564.2" x2="807.2" y2="570.2" stroke="#000" stroke-width="1"/>
<line x1="833.6" y1="564.2" x2="833.6" y2="570.2" stroke="#000" stroke-width="1"/>
<text transform="translate(798,578.1) scale(0.85,1)" font-size="8.4" stroke="#000" stroke-width="0.45">I</text>
<polygon points="865.75,537.2 885.75,547.4 885.75,569 865.75,579.2 845.75,569 845.75,547.4" fill="none" stroke="#000" stroke-width="1.1"/>
<circle cx="865.75" cy="558.2" r="13.5" fill="none" stroke="#000" stroke-width="2.3"/>
<circle cx="865.75" cy="558.2" r="11.8" fill="none" stroke="#000" stroke-width="0.8"/>
<polygon points="878.05,558.2 871.9,568.07 859.6,568.07 853.45,558.2 859.6,548.33 871.9,548.33" fill="none" stroke="#000" stroke-width="0.8"/>
<circle cx="865.75" cy="558.2" r="10.6" fill="none" stroke="#000" stroke-width="0.9"/>
<rect x="862.25" y="543" width="7" height="3" fill="#000"/>
<rect x="862.25" y="570.8" width="7" height="2.2" fill="#000"/>
<line x1="852.55" y1="564.2" x2="852.55" y2="570.2" stroke="#000" stroke-width="1"/>
<line x1="878.95" y1="564.2" x2="878.95" y2="570.2" stroke="#000" stroke-width="1"/>
<text transform="translate(843.35,578.1) scale(0.85,1)" font-size="8.4" stroke="#000" stroke-width="0.45">J</text>
<line x1="434" y1="621.3" x2="887" y2="621.3" stroke="#000" stroke-width="1.2"/>
<rect x="423" y="616" width="11" height="11" fill="#000"/>
<text x="428.5" y="624.6" font-size="7.5" fill="#aaa" text-anchor="middle">4</text>
<polygon points="457.6,579.2 477.4,589.4 477.4,611 457.6,621.2 437.8,611 437.8,589.4" fill="none" stroke="#000" stroke-width="1.15"/>
<path d="M457.6,579.2 Q468.77,582.26 477.4,589.4 Q484,600.2 477.4,611 Q468.77,618.14 457.6,621.2 Q446.43,618.14 437.8,611 Q431.2,600.2 437.8,589.4 Q446.43,582.26 457.6,579.2" fill="none" stroke="#000" stroke-width="1" clip-path="url(#p1clip)"/>
<circle cx="457.6" cy="600.2" r="14.7" fill="none" stroke="#000" stroke-width="2.5"/>
<circle cx="457.6" cy="600.2" r="12.9" fill="none" stroke="#000" stroke-width="0.8"/>
<polygon points="469.8,600.2 463.7,610.77 451.5,610.77 445.4,600.2 451.5,589.63 463.7,589.63" fill="none" stroke="#000" stroke-width="0.8"/>
<circle cx="457.6" cy="600.2" r="11" fill="none" stroke="#000" stroke-width="0.8"/>
<text transform="translate(435.2,620.1) scale(0.85,1)" font-size="8.4" stroke="#000" stroke-width="0.45">A</text>
<polygon points="502.95,579.2 522.75,589.4 522.75,611 502.95,621.2 483.15,611 483.15,589.4" fill="none" stroke="#000" stroke-width="1.15"/>
<path d="M502.95,579.2 Q514.12,582.26 522.75,589.4 Q529.35,600.2 522.75,611 Q514.12,618.14 502.95,621.2 Q491.78,618.14 483.15,611 Q476.55,600.2 483.15,589.4 Q491.78,582.26 502.95,579.2" fill="none" stroke="#000" stroke-width="1" clip-path="url(#p1clip)"/>
<polygon points="521.55,600.2 512.25,616.31 493.65,616.31 484.35,600.2 493.65,584.09 512.25,584.09" fill="none" stroke="#000" stroke-width="1"/>
<polygon points="520.05,600.2 511.5,615.01 494.4,615.01 485.85,600.2 494.4,585.39 511.5,585.39" fill="none" stroke="#000" stroke-width="0.9"/>
<circle cx="502.95" cy="600.2" r="14.2" fill="none" stroke="#000" stroke-width="2.4"/>
<circle cx="502.95" cy="600.2" r="12.5" fill="none" stroke="#000" stroke-width="0.8"/>
<polygon points="514.95,600.2 508.95,610.59 496.95,610.59 490.95,600.2 496.95,589.81 508.95,589.81" fill="none" stroke="#000" stroke-width="0.8"/>
<circle cx="502.95" cy="600.2" r="10.8" fill="none" stroke="#000" stroke-width="0.8"/>
<rect x="497.95" y="612.2" width="10" height="3" fill="#000"/>
<text transform="translate(480.55,620.1) scale(0.85,1)" font-size="8.4" stroke="#000" stroke-width="0.45">B</text>
<polygon points="548.3,579.2 568.3,589.4 568.3,611 548.3,621.2 528.3,611 528.3,589.4" fill="none" stroke="#000" stroke-width="1.1"/>
<circle cx="548.3" cy="600.2" r="13.5" fill="none" stroke="#000" stroke-width="2.3"/>
<circle cx="548.3" cy="600.2" r="11.8" fill="none" stroke="#000" stroke-width="0.8"/>
<polygon points="560.6,600.2 554.45,610.07 542.15,610.07 536,600.2 542.15,590.33 554.45,590.33" fill="none" stroke="#000" stroke-width="0.8"/>
<circle cx="548.3" cy="600.2" r="10.6" fill="none" stroke="#000" stroke-width="0.9"/>
<rect x="544.8" y="585" width="7" height="3" fill="#000"/>
<rect x="544.8" y="612.8" width="7" height="2.2" fill="#000"/>
<line x1="535.1" y1="606.2" x2="535.1" y2="612.2" stroke="#000" stroke-width="1"/>
<line x1="561.5" y1="606.2" x2="561.5" y2="612.2" stroke="#000" stroke-width="1"/>
<text transform="translate(525.9,620.1) scale(0.85,1)" font-size="8.4" stroke="#000" stroke-width="0.45">C</text>
<polygon points="593.65,579.2 613.65,589.4 613.65,611 593.65,621.2 573.65,611 573.65,589.4" fill="none" stroke="#000" stroke-width="1.1"/>
<circle cx="593.65" cy="600.2" r="13.5" fill="none" stroke="#000" stroke-width="2.3"/>
<circle cx="593.65" cy="600.2" r="11.8" fill="none" stroke="#000" stroke-width="0.8"/>
<polygon points="605.95,600.2 599.8,610.07 587.5,610.07 581.35,600.2 587.5,590.33 599.8,590.33" fill="none" stroke="#000" stroke-width="0.8"/>
<circle cx="593.65" cy="600.2" r="10.6" fill="none" stroke="#000" stroke-width="0.9"/>
<rect x="590.15" y="585" width="7" height="3" fill="#000"/>
<rect x="590.15" y="612.8" width="7" height="2.2" fill="#000"/>
<line x1="580.45" y1="606.2" x2="580.45" y2="612.2" stroke="#000" stroke-width="1"/>
<line x1="606.85" y1="606.2" x2="606.85" y2="612.2" stroke="#000" stroke-width="1"/>
<text transform="translate(571.25,620.1) scale(0.85,1)" font-size="8.4" stroke="#000" stroke-width="0.45">D</text>
<polygon points="639,579.2 659,589.4 659,611 639,621.2 619,611 619,589.4" fill="none" stroke="#000" stroke-width="1.1"/>
<circle cx="639" cy="600.2" r="13.5" fill="none" stroke="#000" stroke-width="2.3"/>
<circle cx="639" cy="600.2" r="11.8" fill="none" stroke="#000" stroke-width="0.8"/>
<polygon points="651.3,600.2 645.15,610.07 632.85,610.07 626.7,600.2 632.85,590.33 645.15,590.33" fill="none" stroke="#000" stroke-width="0.8"/>
<circle cx="639" cy="600.2" r="10.6" fill="none" stroke="#000" stroke-width="0.9"/>
<rect x="635.5" y="585" width="7" height="3" fill="#000"/>
<rect x="635.5" y="612.8" width="7" height="2.2" fill="#000"/>
<line x1="625.8" y1="606.2" x2="625.8" y2="612.2" stroke="#000" stroke-width="1"/>
<line x1="652.2" y1="606.2" x2="652.2" y2="612.2" stroke="#000" stroke-width="1"/>
<text transform="translate(616.6,620.1) scale(0.85,1)" font-size="8.4" stroke="#000" stroke-width="0.45">E</text>
<polygon points="684.35,579.2 704.35,589.4 704.35,611 684.35,621.2 664.35,611 664.35,589.4" fill="none" stroke="#000" stroke-width="1.1"/>
<circle cx="684.35" cy="600.2" r="13.5" fill="none" stroke="#000" stroke-width="2.3"/>
<circle cx="684.35" cy="600.2" r="11.8" fill="none" stroke="#000" stroke-width="0.8"/>
<polygon points="696.65,600.2 690.5,610.07 678.2,610.07 672.05,600.2 678.2,590.33 690.5,590.33" fill="none" stroke="#000" stroke-width="0.8"/>
<circle cx="684.35" cy="600.2" r="10.6" fill="none" stroke="#000" stroke-width="0.9"/>
<rect x="680.85" y="585" width="7" height="3" fill="#000"/>
<rect x="680.85" y="612.8" width="7" height="2.2" fill="#000"/>
<line x1="671.15" y1="606.2" x2="671.15" y2="612.2" stroke="#000" stroke-width="1"/>
<line x1="697.55" y1="606.2" x2="697.55" y2="612.2" stroke="#000" stroke-width="1"/>
<text transform="translate(661.95,620.1) scale(0.85,1)" font-size="8.4" stroke="#000" stroke-width="0.45">F</text>
<polygon points="729.7,579.2 749.7,589.4 749.7,611 729.7,621.2 709.7,611 709.7,589.4" fill="none" stroke="#000" stroke-width="1.1"/>
<circle cx="729.7" cy="600.2" r="13.5" fill="none" stroke="#000" stroke-width="2.3"/>
<circle cx="729.7" cy="600.2" r="11.8" fill="none" stroke="#000" stroke-width="0.8"/>
<polygon points="742,600.2 735.85,610.07 723.55,610.07 717.4,600.2 723.55,590.33 735.85,590.33" fill="none" stroke="#000" stroke-width="0.8"/>
<circle cx="729.7" cy="600.2" r="10.6" fill="none" stroke="#000" stroke-width="0.9"/>
<rect x="726.2" y="585" width="7" height="3" fill="#000"/>
<rect x="726.2" y="612.8" width="7" height="2.2" fill="#000"/>
<line x1="716.5" y1="606.2" x2="716.5" y2="612.2" stroke="#000" stroke-width="1"/>
<line x1="742.9" y1="606.2" x2="742.9" y2="612.2" stroke="#000" stroke-width="1"/>
<text transform="translate(707.3,620.1) scale(0.85,1)" font-size="8.4" stroke="#000" stroke-width="0.45">G</text>
<polygon points="775.05,579.2 795.05,589.4 795.05,611 775.05,621.2 755.05,611 755.05,589.4" fill="none" stroke="#000" stroke-width="1.1"/>
<circle cx="775.05" cy="600.2" r="13.5" fill="none" stroke="#000" stroke-width="2.3"/>
<circle cx="775.05" cy="600.2" r="11.8" fill="none" stroke="#000" stroke-width="0.8"/>
<polygon points="787.35,600.2 781.2,610.07 768.9,610.07 762.75,600.2 768.9,590.33 781.2,590.33" fill="none" stroke="#000" stroke-width="0.8"/>
<circle cx="775.05" cy="600.2" r="10.6" fill="none" stroke="#000" stroke-width="0.9"/>
<rect x="771.55" y="585" width="7" height="3" fill="#000"/>
<rect x="771.55" y="612.8" width="7" height="2.2" fill="#000"/>
<line x1="761.85" y1="606.2" x2="761.85" y2="612.2" stroke="#000" stroke-width="1"/>
<line x1="788.25" y1="606.2" x2="788.25" y2="612.2" stroke="#000" stroke-width="1"/>
<text transform="translate(752.65,620.1) scale(0.85,1)" font-size="8.4" stroke="#000" stroke-width="0.45">H</text>
<polygon points="820.4,579.2 840.4,589.4 840.4,611 820.4,621.2 800.4,611 800.4,589.4" fill="none" stroke="#000" stroke-width="1.1"/>
<circle cx="820.4" cy="600.2" r="13.5" fill="none" stroke="#000" stroke-width="2.3"/>
<circle cx="820.4" cy="600.2" r="11.8" fill="none" stroke="#000" stroke-width="0.8"/>
<polygon points="832.7,600.2 826.55,610.07 814.25,610.07 808.1,600.2 814.25,590.33 826.55,590.33" fill="none" stroke="#000" stroke-width="0.8"/>
<circle cx="820.4" cy="600.2" r="10.6" fill="none" stroke="#000" stroke-width="0.9"/>
<rect x="816.9" y="585" width="7" height="3" fill="#000"/>
<rect x="816.9" y="612.8" width="7" height="2.2" fill="#000"/>
<line x1="807.2" y1="606.2" x2="807.2" y2="612.2" stroke="#000" stroke-width="1"/>
<line x1="833.6" y1="606.2" x2="833.6" y2="612.2" stroke="#000" stroke-width="1"/>
<text transform="translate(798,620.1) scale(0.85,1)" font-size="8.4" stroke="#000" stroke-width="0.45">I</text>
<polygon points="865.75,579.2 885.75,589.4 885.75,611 865.75,621.2 845.75,611 845.75,589.4" fill="none" stroke="#000" stroke-width="1.1"/>
<circle cx="865.75" cy="600.2" r="13.5" fill="none" stroke="#000" stroke-width="2.3"/>
<circle cx="865.75" cy="600.2" r="11.8" fill="none" stroke="#000" stroke-width="0.8"/>
<polygon points="878.05,600.2 871.9,610.07 859.6,610.07 853.45,600.2 859.6,590.33 871.9,590.33" fill="none" stroke="#000" stroke-width="0.8"/>
<circle cx="865.75" cy="600.2" r="10.6" fill="none" stroke="#000" stroke-width="0.9"/>
<rect x="862.25" y="585" width="7" height="3" fill="#000"/>
<rect x="862.25" y="612.8" width="7" height="2.2" fill="#000"/>
<line x1="852.55" y1="606.2" x2="852.55" y2="612.2" stroke="#000" stroke-width="1"/>
<line x1="878.95" y1="606.2" x2="878.95" y2="612.2" stroke="#000" stroke-width="1"/>
<text transform="translate(843.35,620.1) scale(0.85,1)" font-size="8.4" stroke="#000" stroke-width="0.45">J</text>
<line x1="434" y1="663.3" x2="887" y2="663.3" stroke="#000" stroke-width="1.2"/>
<rect x="423" y="658" width="11" height="11" fill="#000"/>
<text x="428.5" y="666.6" font-size="7.5" fill="#aaa" text-anchor="middle">5</text>
<polygon points="457.6,621.2 477.4,631.4 477.4,653 457.6,663.2 437.8,653 437.8,631.4" fill="none" stroke="#000" stroke-width="1.15"/>
<path d="M457.6,621.2 Q468.77,624.26 477.4,631.4 Q484,642.2 477.4,653 Q468.77,660.14 457.6,663.2 Q446.43,660.14 437.8,653 Q431.2,642.2 437.8,631.4 Q446.43,624.26 457.6,621.2" fill="none" stroke="#000" stroke-width="1" clip-path="url(#p1clip)"/>
<circle cx="457.6" cy="642.2" r="14.7" fill="none" stroke="#000" stroke-width="2.5"/>
<circle cx="457.6" cy="642.2" r="12.9" fill="none" stroke="#000" stroke-width="0.8"/>
<polygon points="469.8,642.2 463.7,652.77 451.5,652.77 445.4,642.2 451.5,631.63 463.7,631.63" fill="none" stroke="#000" stroke-width="0.8"/>
<circle cx="457.6" cy="642.2" r="11" fill="none" stroke="#000" stroke-width="0.8"/>
<text transform="translate(435.2,662.1) scale(0.85,1)" font-size="8.4" stroke="#000" stroke-width="0.45">A</text>
<polygon points="502.95,621.2 522.75,631.4 522.75,653 502.95,663.2 483.15,653 483.15,631.4" fill="none" stroke="#000" stroke-width="1.15"/>
<path d="M502.95,621.2 Q514.12,624.26 522.75,631.4 Q529.35,642.2 522.75,653 Q514.12,660.14 502.95,663.2 Q491.78,660.14 483.15,653 Q476.55,642.2 483.15,631.4 Q491.78,624.26 502.95,621.2" fill="none" stroke="#000" stroke-width="1" clip-path="url(#p1clip)"/>
<polygon points="521.55,642.2 512.25,658.31 493.65,658.31 484.35,642.2 493.65,626.09 512.25,626.09" fill="none" stroke="#000" stroke-width="1"/>
<polygon points="520.05,642.2 511.5,657.01 494.4,657.01 485.85,642.2 494.4,627.39 511.5,627.39" fill="none" stroke="#000" stroke-width="0.9"/>
<circle cx="502.95" cy="642.2" r="14.2" fill="none" stroke="#000" stroke-width="2.4"/>
<circle cx="502.95" cy="642.2" r="12.5" fill="none" stroke="#000" stroke-width="0.8"/>
<polygon points="514.95,642.2 508.95,652.59 496.95,652.59 490.95,642.2 496.95,631.81 508.95,631.81" fill="none" stroke="#000" stroke-width="0.8"/>
<circle cx="502.95" cy="642.2" r="10.8" fill="none" stroke="#000" stroke-width="0.8"/>
<rect x="497.95" y="654.2" width="10" height="3" fill="#000"/>
<text transform="translate(480.55,662.1) scale(0.85,1)" font-size="8.4" stroke="#000" stroke-width="0.45">B</text>
<polygon points="548.3,621.2 568.3,631.4 568.3,653 548.3,663.2 528.3,653 528.3,631.4" fill="none" stroke="#000" stroke-width="1.1"/>
<circle cx="548.3" cy="642.2" r="13.5" fill="none" stroke="#000" stroke-width="2.3"/>
<circle cx="548.3" cy="642.2" r="11.8" fill="none" stroke="#000" stroke-width="0.8"/>
<polygon points="560.6,642.2 554.45,652.07 542.15,652.07 536,642.2 542.15,632.33 554.45,632.33" fill="none" stroke="#000" stroke-width="0.8"/>
<circle cx="548.3" cy="642.2" r="10.6" fill="none" stroke="#000" stroke-width="0.9"/>
<rect x="544.8" y="627" width="7" height="3" fill="#000"/>
<rect x="544.8" y="654.8" width="7" height="2.2" fill="#000"/>
<line x1="535.1" y1="648.2" x2="535.1" y2="654.2" stroke="#000" stroke-width="1"/>
<line x1="561.5" y1="648.2" x2="561.5" y2="654.2" stroke="#000" stroke-width="1"/>
<text transform="translate(525.9,662.1) scale(0.85,1)" font-size="8.4" stroke="#000" stroke-width="0.45">C</text>
<polygon points="593.65,621.2 613.65,631.4 613.65,653 593.65,663.2 573.65,653 573.65,631.4" fill="none" stroke="#000" stroke-width="1.1"/>
<circle cx="593.65" cy="642.2" r="13.5" fill="none" stroke="#000" stroke-width="2.3"/>
<circle cx="593.65" cy="642.2" r="11.8" fill="none" stroke="#000" stroke-width="0.8"/>
<polygon points="605.95,642.2 599.8,652.07 587.5,652.07 581.35,642.2 587.5,632.33 599.8,632.33" fill="none" stroke="#000" stroke-width="0.8"/>
<circle cx="593.65" cy="642.2" r="10.6" fill="none" stroke="#000" stroke-width="0.9"/>
<rect x="590.15" y="627" width="7" height="3" fill="#000"/>
<rect x="590.15" y="654.8" width="7" height="2.2" fill="#000"/>
<line x1="580.45" y1="648.2" x2="580.45" y2="654.2" stroke="#000" stroke-width="1"/>
<line x1="606.85" y1="648.2" x2="606.85" y2="654.2" stroke="#000" stroke-width="1"/>
<text transform="translate(571.25,662.1) scale(0.85,1)" font-size="8.4" stroke="#000" stroke-width="0.45">D</text>
<polygon points="639,621.2 659,631.4 659,653 639,663.2 619,653 619,631.4" fill="none" stroke="#000" stroke-width="1.1"/>
<circle cx="639" cy="642.2" r="13.5" fill="none" stroke="#000" stroke-width="2.3"/>
<circle cx="639" cy="642.2" r="11.8" fill="none" stroke="#000" stroke-width="0.8"/>
<polygon points="651.3,642.2 645.15,652.07 632.85,652.07 626.7,642.2 632.85,632.33 645.15,632.33" fill="none" stroke="#000" stroke-width="0.8"/>
<circle cx="639" cy="642.2" r="10.6" fill="none" stroke="#000" stroke-width="0.9"/>
<rect x="635.5" y="627" width="7" height="3" fill="#000"/>
<rect x="635.5" y="654.8" width="7" height="2.2" fill="#000"/>
<line x1="625.8" y1="648.2" x2="625.8" y2="654.2" stroke="#000" stroke-width="1"/>
<line x1="652.2" y1="648.2" x2="652.2" y2="654.2" stroke="#000" stroke-width="1"/>
<text transform="translate(616.6,662.1) scale(0.85,1)" font-size="8.4" stroke="#000" stroke-width="0.45">E</text>
<polygon points="684.35,621.2 704.35,631.4 704.35,653 684.35,663.2 664.35,653 664.35,631.4" fill="none" stroke="#000" stroke-width="1.1"/>
<circle cx="684.35" cy="642.2" r="13.5" fill="none" stroke="#000" stroke-width="2.3"/>
<circle cx="684.35" cy="642.2" r="11.8" fill="none" stroke="#000" stroke-width="0.8"/>
<polygon points="696.65,642.2 690.5,652.07 678.2,652.07 672.05,642.2 678.2,632.33 690.5,632.33" fill="none" stroke="#000" stroke-width="0.8"/>
<circle cx="684.35" cy="642.2" r="10.6" fill="none" stroke="#000" stroke-width="0.9"/>
<rect x="680.85" y="627" width="7" height="3" fill="#000"/>
<rect x="680.85" y="654.8" width="7" height="2.2" fill="#000"/>
<line x1="671.15" y1="648.2" x2="671.15" y2="654.2" stroke="#000" stroke-width="1"/>
<line x1="697.55" y1="648.2" x2="697.55" y2="654.2" stroke="#000" stroke-width="1"/>
<text transform="translate(661.95,662.1) scale(0.85,1)" font-size="8.4" stroke="#000" stroke-width="0.45">F</text>
<polygon points="729.7,621.2 749.7,631.4 749.7,653 729.7,663.2 709.7,653 709.7,631.4" fill="none" stroke="#000" stroke-width="1.1"/>
<circle cx="729.7" cy="642.2" r="13.5" fill="none" stroke="#000" stroke-width="2.3"/>
<circle cx="729.7" cy="642.2" r="11.8" fill="none" stroke="#000" stroke-width="0.8"/>
<polygon points="742,642.2 735.85,652.07 723.55,652.07 717.4,642.2 723.55,632.33 735.85,632.33" fill="none" stroke="#000" stroke-width="0.8"/>
<circle cx="729.7" cy="642.2" r="10.6" fill="none" stroke="#000" stroke-width="0.9"/>
<rect x="726.2" y="627" width="7" height="3" fill="#000"/>
<rect x="726.2" y="654.8" width="7" height="2.2" fill="#000"/>
<line x1="716.5" y1="648.2" x2="716.5" y2="654.2" stroke="#000" stroke-width="1"/>
<line x1="742.9" y1="648.2" x2="742.9" y2="654.2" stroke="#000" stroke-width="1"/>
<text transform="translate(707.3,662.1) scale(0.85,1)" font-size="8.4" stroke="#000" stroke-width="0.45">G</text>
<polygon points="775.05,621.2 795.05,631.4 795.05,653 775.05,663.2 755.05,653 755.05,631.4" fill="none" stroke="#000" stroke-width="1.1"/>
<circle cx="775.05" cy="642.2" r="13.5" fill="none" stroke="#000" stroke-width="2.3"/>
<circle cx="775.05" cy="642.2" r="11.8" fill="none" stroke="#000" stroke-width="0.8"/>
<polygon points="787.35,642.2 781.2,652.07 768.9,652.07 762.75,642.2 768.9,632.33 781.2,632.33" fill="none" stroke="#000" stroke-width="0.8"/>
<circle cx="775.05" cy="642.2" r="10.6" fill="none" stroke="#000" stroke-width="0.9"/>
<rect x="771.55" y="627" width="7" height="3" fill="#000"/>
<rect x="771.55" y="654.8" width="7" height="2.2" fill="#000"/>
<line x1="761.85" y1="648.2" x2="761.85" y2="654.2" stroke="#000" stroke-width="1"/>
<line x1="788.25" y1="648.2" x2="788.25" y2="654.2" stroke="#000" stroke-width="1"/>
<text transform="translate(752.65,662.1) scale(0.85,1)" font-size="8.4" stroke="#000" stroke-width="0.45">H</text>
<polygon points="820.4,621.2 840.4,631.4 840.4,653 820.4,663.2 800.4,653 800.4,631.4" fill="none" stroke="#000" stroke-width="1.1"/>
<circle cx="820.4" cy="642.2" r="13.5" fill="none" stroke="#000" stroke-width="2.3"/>
<circle cx="820.4" cy="642.2" r="11.8" fill="none" stroke="#000" stroke-width="0.8"/>
<polygon points="832.7,642.2 826.55,652.07 814.25,652.07 808.1,642.2 814.25,632.33 826.55,632.33" fill="none" stroke="#000" stroke-width="0.8"/>
<circle cx="820.4" cy="642.2" r="10.6" fill="none" stroke="#000" stroke-width="0.9"/>
<rect x="816.9" y="627" width="7" height="3" fill="#000"/>
<rect x="816.9" y="654.8" width="7" height="2.2" fill="#000"/>
<line x1="807.2" y1="648.2" x2="807.2" y2="654.2" stroke="#000" stroke-width="1"/>
<line x1="833.6" y1="648.2" x2="833.6" y2="654.2" stroke="#000" stroke-width="1"/>
<text transform="translate(798,662.1) scale(0.85,1)" font-size="8.4" stroke="#000" stroke-width="0.45">I</text>
<polygon points="865.75,621.2 885.75,631.4 885.75,653 865.75,663.2 845.75,653 845.75,631.4" fill="none" stroke="#000" stroke-width="1.1"/>
<circle cx="865.75" cy="642.2" r="13.5" fill="none" stroke="#000" stroke-width="2.3"/>
<circle cx="865.75" cy="642.2" r="11.8" fill="none" stroke="#000" stroke-width="0.8"/>
<polygon points="878.05,642.2 871.9,652.07 859.6,652.07 853.45,642.2 859.6,632.33 871.9,632.33" fill="none" stroke="#000" stroke-width="0.8"/>
<circle cx="865.75" cy="642.2" r="10.6" fill="none" stroke="#000" stroke-width="0.9"/>
<rect x="862.25" y="627" width="7" height="3" fill="#000"/>
<rect x="862.25" y="654.8" width="7" height="2.2" fill="#000"/>
<line x1="852.55" y1="648.2" x2="852.55" y2="654.2" stroke="#000" stroke-width="1"/>
<line x1="878.95" y1="648.2" x2="878.95" y2="654.2" stroke="#000" stroke-width="1"/>
<text transform="translate(843.35,662.1) scale(0.85,1)" font-size="8.4" stroke="#000" stroke-width="0.45">J</text>
<path d="M412.5,1114.5 H436.3 V1120.4 H440.6 V1114.5 H886 V1120 H890 V1114.5 H915 V1335.5 H872 V1329.8 H869 V1335.5 H458.6 V1329.5 H454.4 V1335.5 H412.5 Z" fill="none" stroke="#000" stroke-width="1.3"/>
<line x1="440.6" y1="1118.4" x2="886" y2="1118.4" stroke="#000" stroke-width="1.1"/>
<line x1="459" y1="1331.8" x2="869" y2="1331.8" stroke="#000" stroke-width="1" stroke-dasharray="5,3.5"/>
<polygon points="418.1,1138.4 419.94,1132.88 427.3,1130.49 434.66,1132.88 436.5,1138.4 434.66,1143.92 427.3,1146.31 419.94,1143.92" fill="none" stroke="#000" stroke-width="1.1"/>
<ellipse cx="427.3" cy="1138.4" rx="5.4" ry="4.75" fill="none" stroke="#000" stroke-width="1.1"/>
<polygon points="890.8,1138.4 892.64,1132.88 900,1130.49 907.36,1132.88 909.2,1138.4 907.36,1143.92 900,1146.31 892.64,1143.92" fill="none" stroke="#000" stroke-width="1.1"/>
<ellipse cx="900" cy="1138.4" rx="5.4" ry="4.75" fill="none" stroke="#000" stroke-width="1.1"/>
<polygon points="418.1,1222 419.94,1216.48 427.3,1214.09 434.66,1216.48 436.5,1222 434.66,1227.52 427.3,1229.91 419.94,1227.52" fill="none" stroke="#000" stroke-width="1.1"/>
<ellipse cx="427.3" cy="1222" rx="5.4" ry="4.75" fill="none" stroke="#000" stroke-width="1.1"/>
<polygon points="890.8,1222 892.64,1216.48 900,1214.09 907.36,1216.48 909.2,1222 907.36,1227.52 900,1229.91 892.64,1227.52" fill="none" stroke="#000" stroke-width="1.1"/>
<ellipse cx="900" cy="1222" rx="5.4" ry="4.75" fill="none" stroke="#000" stroke-width="1.1"/>
<polygon points="418.1,1305.6 419.94,1300.08 427.3,1297.69 434.66,1300.08 436.5,1305.6 434.66,1311.12 427.3,1313.51 419.94,1311.12" fill="none" stroke="#000" stroke-width="1.1"/>
<ellipse cx="427.3" cy="1305.6" rx="5.4" ry="4.75" fill="none" stroke="#000" stroke-width="1.1"/>
<polygon points="890.8,1305.6 892.64,1300.08 900,1297.69 907.36,1300.08 909.2,1305.6 907.36,1311.12 900,1313.51 892.64,1311.12" fill="none" stroke="#000" stroke-width="1.1"/>
<ellipse cx="900" cy="1305.6" rx="5.4" ry="4.75" fill="none" stroke="#000" stroke-width="1.1"/>
<line x1="439" y1="1158.2" x2="866" y2="1158.2" stroke="#000" stroke-width="1.1"/>
<rect x="427.8" y="1149.9" width="11.2" height="10.3" fill="#000"/>
<line x1="439" y1="1200.2" x2="866" y2="1200.2" stroke="#000" stroke-width="1.1"/>
<rect x="427.8" y="1191.9" width="11.2" height="10.3" fill="#000"/>
<line x1="439" y1="1241.6" x2="866" y2="1241.6" stroke="#000" stroke-width="1.1"/>
<rect x="427.8" y="1233.3" width="11.2" height="10.3" fill="#000"/>
<line x1="439" y1="1284.6" x2="866" y2="1284.6" stroke="#000" stroke-width="1.1"/>
<rect x="427.8" y="1276.3" width="11.2" height="10.3" fill="#000"/>
<line x1="439" y1="1326.3" x2="866" y2="1326.3" stroke="#000" stroke-width="1.1"/>
<rect x="427.8" y="1318" width="11.2" height="10.3" fill="#000"/>
<line x1="454.4" y1="1114.5" x2="454.4" y2="1144.4" stroke="#000" stroke-width="1.2"/>
<line x1="525" y1="1114.5" x2="525" y2="1144.4" stroke="#000" stroke-width="1.2"/>
<line x1="454.4" y1="1144.4" x2="525" y2="1144.4" stroke="#000" stroke-width="1.2"/>
<rect x="454.9" y="1114.4" width="3.8" height="3.9" fill="none" stroke="#000" stroke-width="1"/>
<rect x="521.4" y="1114.4" width="3.8" height="3.9" fill="none" stroke="#000" stroke-width="1"/>
<rect x="476.4" y="1118.4" width="18" height="4" fill="none" stroke="#000" stroke-width="1"/>
<line x1="476.4" y1="1122.4" x2="494.4" y2="1122.4" stroke="#000" stroke-width="1.6"/>
<rect x="456.2" y="1123.2" width="67.7" height="19.5" fill="none" stroke="#000" stroke-width="1.1"/>
<path d="M458.2,1127.4 V1140.8 H460.89 Q463.09,1138.2 465.29,1140.8 H467.98 V1127.4" fill="none" stroke="#000" stroke-width="1.05"/>
<rect x="458.2" y="1126.8" width="3.23" height="1.1" fill="#000"/>
<rect x="464.75" y="1126.8" width="3.23" height="1.1" fill="#000"/>
<circle cx="463.09" cy="1134.64" r="1.75" fill="none" stroke="#000" stroke-width="1.15"/>
<path d="M468.98,1127.4 V1140.8 H471.68 Q473.88,1138.2 476.07,1140.8 H478.77 V1127.4" fill="none" stroke="#000" stroke-width="1.05"/>
<rect x="468.98" y="1126.8" width="3.23" height="1.1" fill="#000"/>
<rect x="475.53" y="1126.8" width="3.23" height="1.1" fill="#000"/>
<circle cx="473.88" cy="1134.64" r="1.75" fill="none" stroke="#000" stroke-width="1.15"/>
<path d="M479.77,1127.4 V1140.8 H482.46 Q484.66,1138.2 486.86,1140.8 H489.55 V1127.4" fill="none" stroke="#000" stroke-width="1.05"/>
<rect x="479.77" y="1126.8" width="3.23" height="1.1" fill="#000"/>
<rect x="486.31" y="1126.8" width="3.23" height="1.1" fill="#000"/>
<circle cx="484.66" cy="1134.64" r="1.75" fill="none" stroke="#000" stroke-width="1.15"/>
<path d="M490.55,1127.4 V1140.8 H493.24 Q495.44,1138.2 497.64,1140.8 H500.33 V1127.4" fill="none" stroke="#000" stroke-width="1.05"/>
<rect x="490.55" y="1126.8" width="3.23" height="1.1" fill="#000"/>
<rect x="497.1" y="1126.8" width="3.23" height="1.1" fill="#000"/>
<circle cx="495.44" cy="1134.64" r="1.75" fill="none" stroke="#000" stroke-width="1.15"/>
<path d="M501.33,1127.4 V1140.8 H504.02 Q506.22,1138.2 508.42,1140.8 H511.12 V1127.4" fill="none" stroke="#000" stroke-width="1.05"/>
<rect x="501.33" y="1126.8" width="3.23" height="1.1" fill="#000"/>
<rect x="507.88" y="1126.8" width="3.23" height="1.1" fill="#000"/>
<circle cx="506.22" cy="1134.64" r="1.75" fill="none" stroke="#000" stroke-width="1.15"/>
<path d="M512.12,1127.4 V1140.8 H514.81 Q517.01,1138.2 519.21,1140.8 H521.9 V1127.4" fill="none" stroke="#000" stroke-width="1.05"/>
<rect x="512.12" y="1126.8" width="3.23" height="1.1" fill="#000"/>
<rect x="518.66" y="1126.8" width="3.23" height="1.1" fill="#000"/>
<circle cx="517.01" cy="1134.64" r="1.75" fill="none" stroke="#000" stroke-width="1.15"/>
<rect x="455.1" y="1160.7" width="70.7" height="19.6" fill="none" stroke="#000" stroke-width="1.35"/>
<polyline points="456.9,1162 456.9,1178.8 523,1178.8 523,1162" fill="none" stroke="#000" stroke-width="0.9"/>
<rect x="457.7" y="1163.2" width="64.4" height="1.4" fill="#000"/>
<path d="M458.2,1166 V1177.6 H460.87 Q463.07,1175 465.27,1177.6 H467.93 V1166" fill="none" stroke="#000" stroke-width="1.05"/>
<rect x="458.2" y="1165.4" width="3.22" height="1.1" fill="#000"/>
<rect x="464.71" y="1165.4" width="3.22" height="1.1" fill="#000"/>
<circle cx="463.07" cy="1172.13" r="1.75" fill="none" stroke="#000" stroke-width="1.15"/>
<path d="M468.93,1166 V1177.6 H471.6 Q473.8,1175 476,1177.6 H478.67 V1166" fill="none" stroke="#000" stroke-width="1.05"/>
<rect x="468.93" y="1165.4" width="3.22" height="1.1" fill="#000"/>
<rect x="475.45" y="1165.4" width="3.22" height="1.1" fill="#000"/>
<circle cx="473.8" cy="1172.13" r="1.75" fill="none" stroke="#000" stroke-width="1.15"/>
<path d="M479.67,1166 V1177.6 H482.33 Q484.53,1175 486.73,1177.6 H489.4 V1166" fill="none" stroke="#000" stroke-width="1.05"/>
<rect x="479.67" y="1165.4" width="3.22" height="1.1" fill="#000"/>
<rect x="486.18" y="1165.4" width="3.22" height="1.1" fill="#000"/>
<circle cx="484.53" cy="1172.13" r="1.75" fill="none" stroke="#000" stroke-width="1.15"/>
<path d="M490.4,1166 V1177.6 H493.07 Q495.27,1175 497.47,1177.6 H500.13 V1166" fill="none" stroke="#000" stroke-width="1.05"/>
<rect x="490.4" y="1165.4" width="3.22" height="1.1" fill="#000"/>
<rect x="496.91" y="1165.4" width="3.22" height="1.1" fill="#000"/>
<circle cx="495.27" cy="1172.13" r="1.75" fill="none" stroke="#000" stroke-width="1.15"/>
<path d="M501.13,1166 V1177.6 H503.8 Q506,1175 508.2,1177.6 H510.87 V1166" fill="none" stroke="#000" stroke-width="1.05"/>
<rect x="501.13" y="1165.4" width="3.22" height="1.1" fill="#000"/>
<rect x="507.65" y="1165.4" width="3.22" height="1.1" fill="#000"/>
<circle cx="506" cy="1172.13" r="1.75" fill="none" stroke="#000" stroke-width="1.15"/>
<path d="M511.87,1166 V1177.6 H514.53 Q516.73,1175 518.93,1177.6 H521.6 V1166" fill="none" stroke="#000" stroke-width="1.05"/>
<rect x="511.87" y="1165.4" width="3.22" height="1.1" fill="#000"/>
<rect x="518.38" y="1165.4" width="3.22" height="1.1" fill="#000"/>
<circle cx="516.73" cy="1172.13" r="1.75" fill="none" stroke="#000" stroke-width="1.15"/>
<rect x="455.1" y="1201.7" width="70.7" height="21.1" fill="none" stroke="#000" stroke-width="1.35"/>
<polyline points="456.9,1203 456.9,1221.3 523,1221.3 523,1203" fill="none" stroke="#000" stroke-width="0.9"/>
<rect x="457.7" y="1204.2" width="64.4" height="1.4" fill="#000"/>
<path d="M458.2,1207 V1220.1 H460.87 Q463.07,1217.5 465.27,1220.1 H467.93 V1207" fill="none" stroke="#000" stroke-width="1.05"/>
<rect x="458.2" y="1206.4" width="3.22" height="1.1" fill="#000"/>
<rect x="464.71" y="1206.4" width="3.22" height="1.1" fill="#000"/>
<circle cx="463.07" cy="1214.06" r="1.75" fill="none" stroke="#000" stroke-width="1.15"/>
<path d="M468.93,1207 V1220.1 H471.6 Q473.8,1217.5 476,1220.1 H478.67 V1207" fill="none" stroke="#000" stroke-width="1.05"/>
<rect x="468.93" y="1206.4" width="3.22" height="1.1" fill="#000"/>
<rect x="475.45" y="1206.4" width="3.22" height="1.1" fill="#000"/>
<circle cx="473.8" cy="1214.06" r="1.75" fill="none" stroke="#000" stroke-width="1.15"/>
<path d="M479.67,1207 V1220.1 H482.33 Q484.53,1217.5 486.73,1220.1 H489.4 V1207" fill="none" stroke="#000" stroke-width="1.05"/>
<rect x="479.67" y="1206.4" width="3.22" height="1.1" fill="#000"/>
<rect x="486.18" y="1206.4" width="3.22" height="1.1" fill="#000"/>
<circle cx="484.53" cy="1214.06" r="1.75" fill="none" stroke="#000" stroke-width="1.15"/>
<path d="M490.4,1207 V1220.1 H493.07 Q495.27,1217.5 497.47,1220.1 H500.13 V1207" fill="none" stroke="#000" stroke-width="1.05"/>
<rect x="490.4" y="1206.4" width="3.22" height="1.1" fill="#000"/>
<rect x="496.91" y="1206.4" width="3.22" height="1.1" fill="#000"/>
<circle cx="495.27" cy="1214.06" r="1.75" fill="none" stroke="#000" stroke-width="1.15"/>
<path d="M501.13,1207 V1220.1 H503.8 Q506,1217.5 508.2,1220.1 H510.87 V1207" fill="none" stroke="#000" stroke-width="1.05"/>
<rect x="501.13" y="1206.4" width="3.22" height="1.1" fill="#000"/>
<rect x="507.65" y="1206.4" width="3.22" height="1.1" fill="#000"/>
<circle cx="506" cy="1214.06" r="1.75" fill="none" stroke="#000" stroke-width="1.15"/>
<path d="M511.87,1207 V1220.1 H514.53 Q516.73,1217.5 518.93,1220.1 H521.6 V1207" fill="none" stroke="#000" stroke-width="1.05"/>
<rect x="511.87" y="1206.4" width="3.22" height="1.1" fill="#000"/>
<rect x="518.38" y="1206.4" width="3.22" height="1.1" fill="#000"/>
<circle cx="516.73" cy="1214.06" r="1.75" fill="none" stroke="#000" stroke-width="1.15"/>
<rect x="455.1" y="1245.7" width="70.7" height="20.1" fill="none" stroke="#000" stroke-width="1.35"/>
<polyline points="456.9,1247 456.9,1264.3 523,1264.3 523,1247" fill="none" stroke="#000" stroke-width="0.9"/>
<rect x="457.7" y="1248.2" width="64.4" height="1.4" fill="#000"/>
<path d="M458.2,1251 V1263.1 H460.87 Q463.07,1260.5 465.27,1263.1 H467.93 V1251" fill="none" stroke="#000" stroke-width="1.05"/>
<rect x="458.2" y="1250.4" width="3.22" height="1.1" fill="#000"/>
<rect x="464.71" y="1250.4" width="3.22" height="1.1" fill="#000"/>
<circle cx="463.07" cy="1257.44" r="1.75" fill="none" stroke="#000" stroke-width="1.15"/>
<path d="M468.93,1251 V1263.1 H471.6 Q473.8,1260.5 476,1263.1 H478.67 V1251" fill="none" stroke="#000" stroke-width="1.05"/>
<rect x="468.93" y="1250.4" width="3.22" height="1.1" fill="#000"/>
<rect x="475.45" y="1250.4" width="3.22" height="1.1" fill="#000"/>
<circle cx="473.8" cy="1257.44" r="1.75" fill="none" stroke="#000" stroke-width="1.15"/>
<path d="M479.67,1251 V1263.1 H482.33 Q484.53,1260.5 486.73,1263.1 H489.4 V1251" fill="none" stroke="#000" stroke-width="1.05"/>
<rect x="479.67" y="1250.4" width="3.22" height="1.1" fill="#000"/>
<rect x="486.18" y="1250.4" width="3.22" height="1.1" fill="#000"/>
<circle cx="484.53" cy="1257.44" r="1.75" fill="none" stroke="#000" stroke-width="1.15"/>
<path d="M490.4,1251 V1263.1 H493.07 Q495.27,1260.5 497.47,1263.1 H500.13 V1251" fill="none" stroke="#000" stroke-width="1.05"/>
<rect x="490.4" y="1250.4" width="3.22" height="1.1" fill="#000"/>
<rect x="496.91" y="1250.4" width="3.22" height="1.1" fill="#000"/>
<circle cx="495.27" cy="1257.44" r="1.75" fill="none" stroke="#000" stroke-width="1.15"/>
<path d="M501.13,1251 V1263.1 H503.8 Q506,1260.5 508.2,1263.1 H510.87 V1251" fill="none" stroke="#000" stroke-width="1.05"/>
<rect x="501.13" y="1250.4" width="3.22" height="1.1" fill="#000"/>
<rect x="507.65" y="1250.4" width="3.22" height="1.1" fill="#000"/>
<circle cx="506" cy="1257.44" r="1.75" fill="none" stroke="#000" stroke-width="1.15"/>
<path d="M511.87,1251 V1263.1 H514.53 Q516.73,1260.5 518.93,1263.1 H521.6 V1251" fill="none" stroke="#000" stroke-width="1.05"/>
<rect x="511.87" y="1250.4" width="3.22" height="1.1" fill="#000"/>
<rect x="518.38" y="1250.4" width="3.22" height="1.1" fill="#000"/>
<circle cx="516.73" cy="1257.44" r="1.75" fill="none" stroke="#000" stroke-width="1.15"/>
<rect x="455.1" y="1286.7" width="70.7" height="20.6" fill="none" stroke="#000" stroke-width="1.35"/>
<polyline points="456.9,1288 456.9,1305.8 523,1305.8 523,1288" fill="none" stroke="#000" stroke-width="0.9"/>
<rect x="457.7" y="1289.2" width="64.4" height="1.4" fill="#000"/>
<path d="M458.2,1292 V1304.6 H460.87 Q463.07,1302 465.27,1304.6 H467.93 V1292" fill="none" stroke="#000" stroke-width="1.05"/>
<rect x="458.2" y="1291.4" width="3.22" height="1.1" fill="#000"/>
<rect x="464.71" y="1291.4" width="3.22" height="1.1" fill="#000"/>
<circle cx="463.07" cy="1298.75" r="1.75" fill="none" stroke="#000" stroke-width="1.15"/>
<path d="M468.93,1292 V1304.6 H471.6 Q473.8,1302 476,1304.6 H478.67 V1292" fill="none" stroke="#000" stroke-width="1.05"/>
<rect x="468.93" y="1291.4" width="3.22" height="1.1" fill="#000"/>
<rect x="475.45" y="1291.4" width="3.22" height="1.1" fill="#000"/>
<circle cx="473.8" cy="1298.75" r="1.75" fill="none" stroke="#000" stroke-width="1.15"/>
<path d="M479.67,1292 V1304.6 H482.33 Q484.53,1302 486.73,1304.6 H489.4 V1292" fill="none" stroke="#000" stroke-width="1.05"/>
<rect x="479.67" y="1291.4" width="3.22" height="1.1" fill="#000"/>
<rect x="486.18" y="1291.4" width="3.22" height="1.1" fill="#000"/>
<circle cx="484.53" cy="1298.75" r="1.75" fill="none" stroke="#000" stroke-width="1.15"/>
<path d="M490.4,1292 V1304.6 H493.07 Q495.27,1302 497.47,1304.6 H500.13 V1292" fill="none" stroke="#000" stroke-width="1.05"/>
<rect x="490.4" y="1291.4" width="3.22" height="1.1" fill="#000"/>
<rect x="496.91" y="1291.4" width="3.22" height="1.1" fill="#000"/>
<circle cx="495.27" cy="1298.75" r="1.75" fill="none" stroke="#000" stroke-width="1.15"/>
<path d="M501.13,1292 V1304.6 H503.8 Q506,1302 508.2,1304.6 H510.87 V1292" fill="none" stroke="#000" stroke-width="1.05"/>
<rect x="501.13" y="1291.4" width="3.22" height="1.1" fill="#000"/>
<rect x="507.65" y="1291.4" width="3.22" height="1.1" fill="#000"/>
<circle cx="506" cy="1298.75" r="1.75" fill="none" stroke="#000" stroke-width="1.15"/>
<path d="M511.87,1292 V1304.6 H514.53 Q516.73,1302 518.93,1304.6 H521.6 V1292" fill="none" stroke="#000" stroke-width="1.05"/>
<rect x="511.87" y="1291.4" width="3.22" height="1.1" fill="#000"/>
<rect x="518.38" y="1291.4" width="3.22" height="1.1" fill="#000"/>
<circle cx="516.73" cy="1298.75" r="1.75" fill="none" stroke="#000" stroke-width="1.15"/>
<rect x="456.4" y="1149.8" width="33.6" height="10.4" fill="#000"/>
<rect x="490" y="1150.6" width="31.8" height="7.6" fill="none" stroke="#000" stroke-width="1"/>
<text x="504.7" y="1157.7" font-size="9.3" text-anchor="middle" stroke="#000" stroke-width="0.45">B</text>
<rect x="456.4" y="1191.8" width="33.6" height="10.4" fill="#000"/>
<rect x="490" y="1192.6" width="31.8" height="7.6" fill="none" stroke="#000" stroke-width="1"/>
<line x1="491.1" y1="1195.5" x2="498.4" y2="1195.5" stroke="#000" stroke-width="1.5"/>
<line x1="494.4" y1="1192.2" x2="494.4" y2="1199.7" stroke="#000" stroke-width="1.5"/>
<line x1="501.9" y1="1195.5" x2="509.1" y2="1195.5" stroke="#000" stroke-width="1.6"/>
<text x="515.2" y="1199.3" font-size="9.4" text-anchor="middle" stroke="#000" stroke-width="0.45">S</text>
<line x1="517.9" y1="1195.5" x2="521.4" y2="1195.5" stroke="#000" stroke-width="1"/>
<rect x="456.4" y="1233.2" width="33.6" height="10.4" fill="#000"/>
<rect x="490" y="1234" width="31.8" height="7.6" fill="none" stroke="#000" stroke-width="1"/>
<text x="504.7" y="1241.1" font-size="9.3" text-anchor="middle" stroke="#000" stroke-width="0.45">B</text>
<rect x="456.4" y="1276.2" width="33.6" height="10.4" fill="#000"/>
<rect x="490" y="1277" width="31.8" height="7.6" fill="none" stroke="#000" stroke-width="1"/>
<line x1="491.1" y1="1279.9" x2="498.4" y2="1279.9" stroke="#000" stroke-width="1.5"/>
<line x1="494.4" y1="1276.6" x2="494.4" y2="1284.1" stroke="#000" stroke-width="1.5"/>
<line x1="501.9" y1="1279.9" x2="509.1" y2="1279.9" stroke="#000" stroke-width="1.6"/>
<text x="515.2" y="1283.7" font-size="9.4" text-anchor="middle" stroke="#000" stroke-width="0.45">S</text>
<line x1="517.9" y1="1279.9" x2="521.4" y2="1279.9" stroke="#000" stroke-width="1"/>
<rect x="456.4" y="1317.9" width="33.6" height="10.4" fill="#000"/>
<rect x="490" y="1318.7" width="31.8" height="7.6" fill="none" stroke="#000" stroke-width="1"/>
<text x="504.7" y="1325.8" font-size="9.3" text-anchor="middle" stroke="#000" stroke-width="0.45">B</text>
<line x1="539.8" y1="1114.5" x2="539.8" y2="1144.4" stroke="#000" stroke-width="1.2"/>
<line x1="610.4" y1="1114.5" x2="610.4" y2="1144.4" stroke="#000" stroke-width="1.2"/>
<line x1="539.8" y1="1144.4" x2="610.4" y2="1144.4" stroke="#000" stroke-width="1.2"/>
<rect x="541.6" y="1120.2" width="67.7" height="19.3" fill="none" stroke="#000" stroke-width="1.1"/>
<path d="M543.6,1124.4 V1137.9 H546.29 Q548.49,1135.3 550.69,1137.9 H553.38 V1124.4" fill="none" stroke="#000" stroke-width="1.05"/>
<rect x="543.6" y="1123.8" width="3.24" height="1.1" fill="#000"/>
<rect x="550.15" y="1123.8" width="3.24" height="1.1" fill="#000"/>
<circle cx="548.49" cy="1131.71" r="1.75" fill="none" stroke="#000" stroke-width="1.15"/>
<path d="M554.38,1124.4 V1137.9 H557.07 Q559.27,1135.3 561.47,1137.9 H564.17 V1124.4" fill="none" stroke="#000" stroke-width="1.05"/>
<rect x="554.38" y="1123.8" width="3.24" height="1.1" fill="#000"/>
<rect x="560.93" y="1123.8" width="3.24" height="1.1" fill="#000"/>
<circle cx="559.27" cy="1131.71" r="1.75" fill="none" stroke="#000" stroke-width="1.15"/>
<path d="M565.17,1124.4 V1137.9 H567.86 Q570.06,1135.3 572.26,1137.9 H574.95 V1124.4" fill="none" stroke="#000" stroke-width="1.05"/>
<rect x="565.17" y="1123.8" width="3.24" height="1.1" fill="#000"/>
<rect x="571.71" y="1123.8" width="3.24" height="1.1" fill="#000"/>
<circle cx="570.06" cy="1131.71" r="1.75" fill="none" stroke="#000" stroke-width="1.15"/>
<path d="M575.95,1124.4 V1137.9 H578.64 Q580.84,1135.3 583.04,1137.9 H585.73 V1124.4" fill="none" stroke="#000" stroke-width="1.05"/>
<rect x="575.95" y="1123.8" width="3.24" height="1.1" fill="#000"/>
<rect x="582.5" y="1123.8" width="3.24" height="1.1" fill="#000"/>
<circle cx="580.84" cy="1131.71" r="1.75" fill="none" stroke="#000" stroke-width="1.15"/>
<path d="M586.73,1124.4 V1137.9 H589.42 Q591.62,1135.3 593.82,1137.9 H596.52 V1124.4" fill="none" stroke="#000" stroke-width="1.05"/>
<rect x="586.73" y="1123.8" width="3.24" height="1.1" fill="#000"/>
<rect x="593.28" y="1123.8" width="3.24" height="1.1" fill="#000"/>
<circle cx="591.62" cy="1131.71" r="1.75" fill="none" stroke="#000" stroke-width="1.15"/>
<path d="M597.52,1124.4 V1137.9 H600.21 Q602.41,1135.3 604.61,1137.9 H607.3 V1124.4" fill="none" stroke="#000" stroke-width="1.05"/>
<rect x="597.52" y="1123.8" width="3.24" height="1.1" fill="#000"/>
<rect x="604.06" y="1123.8" width="3.24" height="1.1" fill="#000"/>
<circle cx="602.41" cy="1131.71" r="1.75" fill="none" stroke="#000" stroke-width="1.15"/>
<rect x="540.5" y="1160.7" width="70.7" height="19.6" fill="none" stroke="#000" stroke-width="1.35"/>
<polyline points="542.3,1162 542.3,1178.8 608.4,1178.8 608.4,1162" fill="none" stroke="#000" stroke-width="0.9"/>
<rect x="543.1" y="1163.2" width="64.4" height="1.4" fill="#000"/>
<path d="M543.6,1166 V1177.6 H546.27 Q548.47,1175 550.67,1177.6 H553.33 V1166" fill="none" stroke="#000" stroke-width="1.05"/>
<rect x="543.6" y="1165.4" width="3.22" height="1.1" fill="#000"/>
<rect x="550.11" y="1165.4" width="3.22" height="1.1" fill="#000"/>
<circle cx="548.47" cy="1172.13" r="1.75" fill="none" stroke="#000" stroke-width="1.15"/>
<path d="M554.33,1166 V1177.6 H557 Q559.2,1175 561.4,1177.6 H564.07 V1166" fill="none" stroke="#000" stroke-width="1.05"/>
<rect x="554.33" y="1165.4" width="3.22" height="1.1" fill="#000"/>
<rect x="560.85" y="1165.4" width="3.22" height="1.1" fill="#000"/>
<circle cx="559.2" cy="1172.13" r="1.75" fill="none" stroke="#000" stroke-width="1.15"/>
<path d="M565.07,1166 V1177.6 H567.73 Q569.93,1175 572.13,1177.6 H574.8 V1166" fill="none" stroke="#000" stroke-width="1.05"/>
<rect x="565.07" y="1165.4" width="3.22" height="1.1" fill="#000"/>
<rect x="571.58" y="1165.4" width="3.22" height="1.1" fill="#000"/>
<circle cx="569.93" cy="1172.13" r="1.75" fill="none" stroke="#000" stroke-width="1.15"/>
<path d="M575.8,1166 V1177.6 H578.47 Q580.67,1175 582.87,1177.6 H585.53 V1166" fill="none" stroke="#000" stroke-width="1.05"/>
<rect x="575.8" y="1165.4" width="3.22" height="1.1" fill="#000"/>
<rect x="582.31" y="1165.4" width="3.22" height="1.1" fill="#000"/>
<circle cx="580.67" cy="1172.13" r="1.75" fill="none" stroke="#000" stroke-width="1.15"/>
<path d="M586.53,1166 V1177.6 H589.2 Q591.4,1175 593.6,1177.6 H596.27 V1166" fill="none" stroke="#000" stroke-width="1.05"/>
<rect x="586.53" y="1165.4" width="3.22" height="1.1" fill="#000"/>
<rect x="593.05" y="1165.4" width="3.22" height="1.1" fill="#000"/>
<circle cx="591.4" cy="1172.13" r="1.75" fill="none" stroke="#000" stroke-width="1.15"/>
<path d="M597.27,1166 V1177.6 H599.93 Q602.13,1175 604.33,1177.6 H607 V1166" fill="none" stroke="#000" stroke-width="1.05"/>
<rect x="597.27" y="1165.4" width="3.22" height="1.1" fill="#000"/>
<rect x="603.78" y="1165.4" width="3.22" height="1.1" fill="#000"/>
<circle cx="602.13" cy="1172.13" r="1.75" fill="none" stroke="#000" stroke-width="1.15"/>
<rect x="540.5" y="1201.7" width="70.7" height="21.1" fill="none" stroke="#000" stroke-width="1.35"/>
<polyline points="542.3,1203 542.3,1221.3 608.4,1221.3 608.4,1203" fill="none" stroke="#000" stroke-width="0.9"/>
<rect x="543.1" y="1204.2" width="64.4" height="1.4" fill="#000"/>
<path d="M543.6,1207 V1220.1 H546.27 Q548.47,1217.5 550.67,1220.1 H553.33 V1207" fill="none" stroke="#000" stroke-width="1.05"/>
<rect x="543.6" y="1206.4" width="3.22" height="1.1" fill="#000"/>
<rect x="550.11" y="1206.4" width="3.22" height="1.1" fill="#000"/>
<circle cx="548.47" cy="1214.06" r="1.75" fill="none" stroke="#000" stroke-width="1.15"/>
<path d="M554.33,1207 V1220.1 H557 Q559.2,1217.5 561.4,1220.1 H564.07 V1207" fill="none" stroke="#000" stroke-width="1.05"/>
<rect x="554.33" y="1206.4" width="3.22" height="1.1" fill="#000"/>
<rect x="560.85" y="1206.4" width="3.22" height="1.1" fill="#000"/>
<circle cx="559.2" cy="1214.06" r="1.75" fill="none" stroke="#000" stroke-width="1.15"/>
<path d="M565.07,1207 V1220.1 H567.73 Q569.93,1217.5 572.13,1220.1 H574.8 V1207" fill="none" stroke="#000" stroke-width="1.05"/>
<rect x="565.07" y="1206.4" width="3.22" height="1.1" fill="#000"/>
<rect x="571.58" y="1206.4" width="3.22" height="1.1" fill="#000"/>
<circle cx="569.93" cy="1214.06" r="1.75" fill="none" stroke="#000" stroke-width="1.15"/>
<path d="M575.8,1207 V1220.1 H578.47 Q580.67,1217.5 582.87,1220.1 H585.53 V1207" fill="none" stroke="#000" stroke-width="1.05"/>
<rect x="575.8" y="1206.4" width="3.22" height="1.1" fill="#000"/>
<rect x="582.31" y="1206.4" width="3.22" height="1.1" fill="#000"/>
<circle cx="580.67" cy="1214.06" r="1.75" fill="none" stroke="#000" stroke-width="1.15"/>
<path d="M586.53,1207 V1220.1 H589.2 Q591.4,1217.5 593.6,1220.1 H596.27 V1207" fill="none" stroke="#000" stroke-width="1.05"/>
<rect x="586.53" y="1206.4" width="3.22" height="1.1" fill="#000"/>
<rect x="593.05" y="1206.4" width="3.22" height="1.1" fill="#000"/>
<circle cx="591.4" cy="1214.06" r="1.75" fill="none" stroke="#000" stroke-width="1.15"/>
<path d="M597.27,1207 V1220.1 H599.93 Q602.13,1217.5 604.33,1220.1 H607 V1207" fill="none" stroke="#000" stroke-width="1.05"/>
<rect x="597.27" y="1206.4" width="3.22" height="1.1" fill="#000"/>
<rect x="603.78" y="1206.4" width="3.22" height="1.1" fill="#000"/>
<circle cx="602.13" cy="1214.06" r="1.75" fill="none" stroke="#000" stroke-width="1.15"/>
<rect x="540.5" y="1245.7" width="70.7" height="20.1" fill="none" stroke="#000" stroke-width="1.35"/>
<polyline points="542.3,1247 542.3,1264.3 608.4,1264.3 608.4,1247" fill="none" stroke="#000" stroke-width="0.9"/>
<rect x="543.1" y="1248.2" width="64.4" height="1.4" fill="#000"/>
<path d="M543.6,1251 V1263.1 H546.27 Q548.47,1260.5 550.67,1263.1 H553.33 V1251" fill="none" stroke="#000" stroke-width="1.05"/>
<rect x="543.6" y="1250.4" width="3.22" height="1.1" fill="#000"/>
<rect x="550.11" y="1250.4" width="3.22" height="1.1" fill="#000"/>
<circle cx="548.47" cy="1257.44" r="1.75" fill="none" stroke="#000" stroke-width="1.15"/>
<path d="M554.33,1251 V1263.1 H557 Q559.2,1260.5 561.4,1263.1 H564.07 V1251" fill="none" stroke="#000" stroke-width="1.05"/>
<rect x="554.33" y="1250.4" width="3.22" height="1.1" fill="#000"/>
<rect x="560.85" y="1250.4" width="3.22" height="1.1" fill="#000"/>
<circle cx="559.2" cy="1257.44" r="1.75" fill="none" stroke="#000" stroke-width="1.15"/>
<path d="M565.07,1251 V1263.1 H567.73 Q569.93,1260.5 572.13,1263.1 H574.8 V1251" fill="none" stroke="#000" stroke-width="1.05"/>
<rect x="565.07" y="1250.4" width="3.22" height="1.1" fill="#000"/>
<rect x="571.58" y="1250.4" width="3.22" height="1.1" fill="#000"/>
<circle cx="569.93" cy="1257.44" r="1.75" fill="none" stroke="#000" stroke-width="1.15"/>
<path d="M575.8,1251 V1263.1 H578.47 Q580.67,1260.5 582.87,1263.1 H585.53 V1251" fill="none" stroke="#000" stroke-width="1.05"/>
<rect x="575.8" y="1250.4" width="3.22" height="1.1" fill="#000"/>
<rect x="582.31" y="1250.4" width="3.22" height="1.1" fill="#000"/>
<circle cx="580.67" cy="1257.44" r="1.75" fill="none" stroke="#000" stroke-width="1.15"/>
<path d="M586.53,1251 V1263.1 H589.2 Q591.4,1260.5 593.6,1263.1 H596.27 V1251" fill="none" stroke="#000" stroke-width="1.05"/>
<rect x="586.53" y="1250.4" width="3.22" height="1.1" fill="#000"/>
<rect x="593.05" y="1250.4" width="3.22" height="1.1" fill="#000"/>
<circle cx="591.4" cy="1257.44" r="1.75" fill="none" stroke="#000" stroke-width="1.15"/>
<path d="M597.27,1251 V1263.1 H599.93 Q602.13,1260.5 604.33,1263.1 H607 V1251" fill="none" stroke="#000" stroke-width="1.05"/>
<rect x="597.27" y="1250.4" width="3.22" height="1.1" fill="#000"/>
<rect x="603.78" y="1250.4" width="3.22" height="1.1" fill="#000"/>
<circle cx="602.13" cy="1257.44" r="1.75" fill="none" stroke="#000" stroke-width="1.15"/>
<rect x="540.5" y="1286.7" width="70.7" height="20.6" fill="none" stroke="#000" stroke-width="1.35"/>
<polyline points="542.3,1288 542.3,1305.8 608.4,1305.8 608.4,1288" fill="none" stroke="#000" stroke-width="0.9"/>
<rect x="543.1" y="1289.2" width="64.4" height="1.4" fill="#000"/>
<path d="M543.6,1292 V1304.6 H546.27 Q548.47,1302 550.67,1304.6 H553.33 V1292" fill="none" stroke="#000" stroke-width="1.05"/>
<rect x="543.6" y="1291.4" width="3.22" height="1.1" fill="#000"/>
<rect x="550.11" y="1291.4" width="3.22" height="1.1" fill="#000"/>
<circle cx="548.47" cy="1298.75" r="1.75" fill="none" stroke="#000" stroke-width="1.15"/>
<path d="M554.33,1292 V1304.6 H557 Q559.2,1302 561.4,1304.6 H564.07 V1292" fill="none" stroke="#000" stroke-width="1.05"/>
<rect x="554.33" y="1291.4" width="3.22" height="1.1" fill="#000"/>
<rect x="560.85" y="1291.4" width="3.22" height="1.1" fill="#000"/>
<circle cx="559.2" cy="1298.75" r="1.75" fill="none" stroke="#000" stroke-width="1.15"/>
<path d="M565.07,1292 V1304.6 H567.73 Q569.93,1302 572.13,1304.6 H574.8 V1292" fill="none" stroke="#000" stroke-width="1.05"/>
<rect x="565.07" y="1291.4" width="3.22" height="1.1" fill="#000"/>
<rect x="571.58" y="1291.4" width="3.22" height="1.1" fill="#000"/>
<circle cx="569.93" cy="1298.75" r="1.75" fill="none" stroke="#000" stroke-width="1.15"/>
<path d="M575.8,1292 V1304.6 H578.47 Q580.67,1302 582.87,1304.6 H585.53 V1292" fill="none" stroke="#000" stroke-width="1.05"/>
<rect x="575.8" y="1291.4" width="3.22" height="1.1" fill="#000"/>
<rect x="582.31" y="1291.4" width="3.22" height="1.1" fill="#000"/>
<circle cx="580.67" cy="1298.75" r="1.75" fill="none" stroke="#000" stroke-width="1.15"/>
<path d="M586.53,1292 V1304.6 H589.2 Q591.4,1302 593.6,1304.6 H596.27 V1292" fill="none" stroke="#000" stroke-width="1.05"/>
<rect x="586.53" y="1291.4" width="3.22" height="1.1" fill="#000"/>
<rect x="593.05" y="1291.4" width="3.22" height="1.1" fill="#000"/>
<circle cx="591.4" cy="1298.75" r="1.75" fill="none" stroke="#000" stroke-width="1.15"/>
<path d="M597.27,1292 V1304.6 H599.93 Q602.13,1302 604.33,1304.6 H607 V1292" fill="none" stroke="#000" stroke-width="1.05"/>
<rect x="597.27" y="1291.4" width="3.22" height="1.1" fill="#000"/>
<rect x="603.78" y="1291.4" width="3.22" height="1.1" fill="#000"/>
<circle cx="602.13" cy="1298.75" r="1.75" fill="none" stroke="#000" stroke-width="1.15"/>
<rect x="541.8" y="1149.8" width="33.6" height="10.4" fill="#000"/>
<rect x="575.4" y="1150.6" width="31.8" height="7.6" fill="none" stroke="#000" stroke-width="1"/>
<text x="590.1" y="1157.7" font-size="9.3" text-anchor="middle" stroke="#000" stroke-width="0.45">D</text>
<rect x="541.8" y="1191.8" width="33.6" height="10.4" fill="#000"/>
<rect x="575.4" y="1192.6" width="31.8" height="7.6" fill="none" stroke="#000" stroke-width="1"/>
<line x1="576.5" y1="1195.5" x2="583.8" y2="1195.5" stroke="#000" stroke-width="1.5"/>
<line x1="579.8" y1="1192.2" x2="579.8" y2="1199.7" stroke="#000" stroke-width="1.5"/>
<line x1="587.3" y1="1195.5" x2="594.5" y2="1195.5" stroke="#000" stroke-width="1.6"/>
<text x="600.6" y="1199.3" font-size="9.4" text-anchor="middle" stroke="#000" stroke-width="0.45">S</text>
<line x1="603.3" y1="1195.5" x2="606.8" y2="1195.5" stroke="#000" stroke-width="1"/>
<rect x="541.8" y="1233.2" width="33.6" height="10.4" fill="#000"/>
<rect x="575.4" y="1234" width="31.8" height="7.6" fill="none" stroke="#000" stroke-width="1"/>
<text x="590.1" y="1241.1" font-size="9.3" text-anchor="middle" stroke="#000" stroke-width="0.45">D</text>
<rect x="541.8" y="1276.2" width="33.6" height="10.4" fill="#000"/>
<rect x="575.4" y="1277" width="31.8" height="7.6" fill="none" stroke="#000" stroke-width="1"/>
<line x1="576.5" y1="1279.9" x2="583.8" y2="1279.9" stroke="#000" stroke-width="1.5"/>
<line x1="579.8" y1="1276.6" x2="579.8" y2="1284.1" stroke="#000" stroke-width="1.5"/>
<line x1="587.3" y1="1279.9" x2="594.5" y2="1279.9" stroke="#000" stroke-width="1.6"/>
<text x="600.6" y="1283.7" font-size="9.4" text-anchor="middle" stroke="#000" stroke-width="0.45">S</text>
<line x1="603.3" y1="1279.9" x2="606.8" y2="1279.9" stroke="#000" stroke-width="1"/>
<rect x="541.8" y="1317.9" width="33.6" height="10.4" fill="#000"/>
<rect x="575.4" y="1318.7" width="31.8" height="7.6" fill="none" stroke="#000" stroke-width="1"/>
<text x="590.1" y="1325.8" font-size="9.3" text-anchor="middle" stroke="#000" stroke-width="0.45">D</text>
<line x1="625.2" y1="1114.5" x2="625.2" y2="1144.4" stroke="#000" stroke-width="1.2"/>
<line x1="695.8" y1="1114.5" x2="695.8" y2="1144.4" stroke="#000" stroke-width="1.2"/>
<line x1="625.2" y1="1144.4" x2="695.8" y2="1144.4" stroke="#000" stroke-width="1.2"/>
<rect x="627" y="1120.2" width="67.7" height="19.3" fill="none" stroke="#000" stroke-width="1.1"/>
<path d="M629,1124.4 V1137.9 H631.69 Q633.89,1135.3 636.09,1137.9 H638.78 V1124.4" fill="none" stroke="#000" stroke-width="1.05"/>
<rect x="629" y="1123.8" width="3.24" height="1.1" fill="#000"/>
<rect x="635.55" y="1123.8" width="3.24" height="1.1" fill="#000"/>
<circle cx="633.89" cy="1131.71" r="1.75" fill="none" stroke="#000" stroke-width="1.15"/>
<path d="M639.78,1124.4 V1137.9 H642.47 Q644.67,1135.3 646.88,1137.9 H649.57 V1124.4" fill="none" stroke="#000" stroke-width="1.05"/>
<rect x="639.78" y="1123.8" width="3.24" height="1.1" fill="#000"/>
<rect x="646.33" y="1123.8" width="3.24" height="1.1" fill="#000"/>
<circle cx="644.67" cy="1131.71" r="1.75" fill="none" stroke="#000" stroke-width="1.15"/>
<path d="M650.57,1124.4 V1137.9 H653.26 Q655.46,1135.3 657.66,1137.9 H660.35 V1124.4" fill="none" stroke="#000" stroke-width="1.05"/>
<rect x="650.57" y="1123.8" width="3.24" height="1.1" fill="#000"/>
<rect x="657.12" y="1123.8" width="3.24" height="1.1" fill="#000"/>
<circle cx="655.46" cy="1131.71" r="1.75" fill="none" stroke="#000" stroke-width="1.15"/>
<path d="M661.35,1124.4 V1137.9 H664.04 Q666.24,1135.3 668.44,1137.9 H671.13 V1124.4" fill="none" stroke="#000" stroke-width="1.05"/>
<rect x="661.35" y="1123.8" width="3.24" height="1.1" fill="#000"/>
<rect x="667.9" y="1123.8" width="3.24" height="1.1" fill="#000"/>
<circle cx="666.24" cy="1131.71" r="1.75" fill="none" stroke="#000" stroke-width="1.15"/>
<path d="M672.13,1124.4 V1137.9 H674.82 Q677.02,1135.3 679.23,1137.9 H681.92 V1124.4" fill="none" stroke="#000" stroke-width="1.05"/>
<rect x="672.13" y="1123.8" width="3.24" height="1.1" fill="#000"/>
<rect x="678.68" y="1123.8" width="3.24" height="1.1" fill="#000"/>
<circle cx="677.02" cy="1131.71" r="1.75" fill="none" stroke="#000" stroke-width="1.15"/>
<path d="M682.92,1124.4 V1137.9 H685.61 Q687.81,1135.3 690.01,1137.9 H692.7 V1124.4" fill="none" stroke="#000" stroke-width="1.05"/>
<rect x="682.92" y="1123.8" width="3.24" height="1.1" fill="#000"/>
<rect x="689.47" y="1123.8" width="3.24" height="1.1" fill="#000"/>
<circle cx="687.81" cy="1131.71" r="1.75" fill="none" stroke="#000" stroke-width="1.15"/>
<rect x="625.9" y="1160.7" width="70.7" height="19.6" fill="none" stroke="#000" stroke-width="1.35"/>
<polyline points="627.7,1162 627.7,1178.8 693.8,1178.8 693.8,1162" fill="none" stroke="#000" stroke-width="0.9"/>
<rect x="628.5" y="1163.2" width="64.4" height="1.4" fill="#000"/>
<path d="M629,1166 V1177.6 H631.67 Q633.87,1175 636.07,1177.6 H638.73 V1166" fill="none" stroke="#000" stroke-width="1.05"/>
<rect x="629" y="1165.4" width="3.22" height="1.1" fill="#000"/>
<rect x="635.51" y="1165.4" width="3.22" height="1.1" fill="#000"/>
<circle cx="633.87" cy="1172.13" r="1.75" fill="none" stroke="#000" stroke-width="1.15"/>
<path d="M639.73,1166 V1177.6 H642.4 Q644.6,1175 646.8,1177.6 H649.47 V1166" fill="none" stroke="#000" stroke-width="1.05"/>
<rect x="639.73" y="1165.4" width="3.22" height="1.1" fill="#000"/>
<rect x="646.25" y="1165.4" width="3.22" height="1.1" fill="#000"/>
<circle cx="644.6" cy="1172.13" r="1.75" fill="none" stroke="#000" stroke-width="1.15"/>
<path d="M650.47,1166 V1177.6 H653.13 Q655.33,1175 657.53,1177.6 H660.2 V1166" fill="none" stroke="#000" stroke-width="1.05"/>
<rect x="650.47" y="1165.4" width="3.22" height="1.1" fill="#000"/>
<rect x="656.98" y="1165.4" width="3.22" height="1.1" fill="#000"/>
<circle cx="655.33" cy="1172.13" r="1.75" fill="none" stroke="#000" stroke-width="1.15"/>
<path d="M661.2,1166 V1177.6 H663.87 Q666.07,1175 668.27,1177.6 H670.93 V1166" fill="none" stroke="#000" stroke-width="1.05"/>
<rect x="661.2" y="1165.4" width="3.22" height="1.1" fill="#000"/>
<rect x="667.71" y="1165.4" width="3.22" height="1.1" fill="#000"/>
<circle cx="666.07" cy="1172.13" r="1.75" fill="none" stroke="#000" stroke-width="1.15"/>
<path d="M671.93,1166 V1177.6 H674.6 Q676.8,1175 679,1177.6 H681.67 V1166" fill="none" stroke="#000" stroke-width="1.05"/>
<rect x="671.93" y="1165.4" width="3.22" height="1.1" fill="#000"/>
<rect x="678.45" y="1165.4" width="3.22" height="1.1" fill="#000"/>
<circle cx="676.8" cy="1172.13" r="1.75" fill="none" stroke="#000" stroke-width="1.15"/>
<path d="M682.67,1166 V1177.6 H685.33 Q687.53,1175 689.73,1177.6 H692.4 V1166" fill="none" stroke="#000" stroke-width="1.05"/>
<rect x="682.67" y="1165.4" width="3.22" height="1.1" fill="#000"/>
<rect x="689.18" y="1165.4" width="3.22" height="1.1" fill="#000"/>
<circle cx="687.53" cy="1172.13" r="1.75" fill="none" stroke="#000" stroke-width="1.15"/>
<rect x="625.9" y="1201.7" width="70.7" height="21.1" fill="none" stroke="#000" stroke-width="1.35"/>
<polyline points="627.7,1203 627.7,1221.3 693.8,1221.3 693.8,1203" fill="none" stroke="#000" stroke-width="0.9"/>
<rect x="628.5" y="1204.2" width="64.4" height="1.4" fill="#000"/>
<path d="M629,1207 V1220.1 H631.67 Q633.87,1217.5 636.07,1220.1 H638.73 V1207" fill="none" stroke="#000" stroke-width="1.05"/>
<rect x="629" y="1206.4" width="3.22" height="1.1" fill="#000"/>
<rect x="635.51" y="1206.4" width="3.22" height="1.1" fill="#000"/>
<circle cx="633.87" cy="1214.06" r="1.75" fill="none" stroke="#000" stroke-width="1.15"/>
<path d="M639.73,1207 V1220.1 H642.4 Q644.6,1217.5 646.8,1220.1 H649.47 V1207" fill="none" stroke="#000" stroke-width="1.05"/>
<rect x="639.73" y="1206.4" width="3.22" height="1.1" fill="#000"/>
<rect x="646.25" y="1206.4" width="3.22" height="1.1" fill="#000"/>
<circle cx="644.6" cy="1214.06" r="1.75" fill="none" stroke="#000" stroke-width="1.15"/>
<path d="M650.47,1207 V1220.1 H653.13 Q655.33,1217.5 657.53,1220.1 H660.2 V1207" fill="none" stroke="#000" stroke-width="1.05"/>
<rect x="650.47" y="1206.4" width="3.22" height="1.1" fill="#000"/>
<rect x="656.98" y="1206.4" width="3.22" height="1.1" fill="#000"/>
<circle cx="655.33" cy="1214.06" r="1.75" fill="none" stroke="#000" stroke-width="1.15"/>
<path d="M661.2,1207 V1220.1 H663.87 Q666.07,1217.5 668.27,1220.1 H670.93 V1207" fill="none" stroke="#000" stroke-width="1.05"/>
<rect x="661.2" y="1206.4" width="3.22" height="1.1" fill="#000"/>
<rect x="667.71" y="1206.4" width="3.22" height="1.1" fill="#000"/>
<circle cx="666.07" cy="1214.06" r="1.75" fill="none" stroke="#000" stroke-width="1.15"/>
<path d="M671.93,1207 V1220.1 H674.6 Q676.8,1217.5 679,1220.1 H681.67 V1207" fill="none" stroke="#000" stroke-width="1.05"/>
<rect x="671.93" y="1206.4" width="3.22" height="1.1" fill="#000"/>
<rect x="678.45" y="1206.4" width="3.22" height="1.1" fill="#000"/>
<circle cx="676.8" cy="1214.06" r="1.75" fill="none" stroke="#000" stroke-width="1.15"/>
<path d="M682.67,1207 V1220.1 H685.33 Q687.53,1217.5 689.73,1220.1 H692.4 V1207" fill="none" stroke="#000" stroke-width="1.05"/>
<rect x="682.67" y="1206.4" width="3.22" height="1.1" fill="#000"/>
<rect x="689.18" y="1206.4" width="3.22" height="1.1" fill="#000"/>
<circle cx="687.53" cy="1214.06" r="1.75" fill="none" stroke="#000" stroke-width="1.15"/>
<rect x="625.9" y="1245.7" width="70.7" height="20.1" fill="none" stroke="#000" stroke-width="1.35"/>
<polyline points="627.7,1247 627.7,1264.3 693.8,1264.3 693.8,1247" fill="none" stroke="#000" stroke-width="0.9"/>
<rect x="628.5" y="1248.2" width="64.4" height="1.4" fill="#000"/>
<path d="M629,1251 V1263.1 H631.67 Q633.87,1260.5 636.07,1263.1 H638.73 V1251" fill="none" stroke="#000" stroke-width="1.05"/>
<rect x="629" y="1250.4" width="3.22" height="1.1" fill="#000"/>
<rect x="635.51" y="1250.4" width="3.22" height="1.1" fill="#000"/>
<circle cx="633.87" cy="1257.44" r="1.75" fill="none" stroke="#000" stroke-width="1.15"/>
<path d="M639.73,1251 V1263.1 H642.4 Q644.6,1260.5 646.8,1263.1 H649.47 V1251" fill="none" stroke="#000" stroke-width="1.05"/>
<rect x="639.73" y="1250.4" width="3.22" height="1.1" fill="#000"/>
<rect x="646.25" y="1250.4" width="3.22" height="1.1" fill="#000"/>
<circle cx="644.6" cy="1257.44" r="1.75" fill="none" stroke="#000" stroke-width="1.15"/>
<path d="M650.47,1251 V1263.1 H653.13 Q655.33,1260.5 657.53,1263.1 H660.2 V1251" fill="none" stroke="#000" stroke-width="1.05"/>
<rect x="650.47" y="1250.4" width="3.22" height="1.1" fill="#000"/>
<rect x="656.98" y="1250.4" width="3.22" height="1.1" fill="#000"/>
<circle cx="655.33" cy="1257.44" r="1.75" fill="none" stroke="#000" stroke-width="1.15"/>
<path d="M661.2,1251 V1263.1 H663.87 Q666.07,1260.5 668.27,1263.1 H670.93 V1251" fill="none" stroke="#000" stroke-width="1.05"/>
<rect x="661.2" y="1250.4" width="3.22" height="1.1" fill="#000"/>
<rect x="667.71" y="1250.4" width="3.22" height="1.1" fill="#000"/>
<circle cx="666.07" cy="1257.44" r="1.75" fill="none" stroke="#000" stroke-width="1.15"/>
<path d="M671.93,1251 V1263.1 H674.6 Q676.8,1260.5 679,1263.1 H681.67 V1251" fill="none" stroke="#000" stroke-width="1.05"/>
<rect x="671.93" y="1250.4" width="3.22" height="1.1" fill="#000"/>
<rect x="678.45" y="1250.4" width="3.22" height="1.1" fill="#000"/>
<circle cx="676.8" cy="1257.44" r="1.75" fill="none" stroke="#000" stroke-width="1.15"/>
<path d="M682.67,1251 V1263.1 H685.33 Q687.53,1260.5 689.73,1263.1 H692.4 V1251" fill="none" stroke="#000" stroke-width="1.05"/>
<rect x="682.67" y="1250.4" width="3.22" height="1.1" fill="#000"/>
<rect x="689.18" y="1250.4" width="3.22" height="1.1" fill="#000"/>
<circle cx="687.53" cy="1257.44" r="1.75" fill="none" stroke="#000" stroke-width="1.15"/>
<rect x="625.9" y="1286.7" width="70.7" height="20.6" fill="none" stroke="#000" stroke-width="1.35"/>
<polyline points="627.7,1288 627.7,1305.8 693.8,1305.8 693.8,1288" fill="none" stroke="#000" stroke-width="0.9"/>
<rect x="628.5" y="1289.2" width="64.4" height="1.4" fill="#000"/>
<path d="M629,1292 V1304.6 H631.67 Q633.87,1302 636.07,1304.6 H638.73 V1292" fill="none" stroke="#000" stroke-width="1.05"/>
<rect x="629" y="1291.4" width="3.22" height="1.1" fill="#000"/>
<rect x="635.51" y="1291.4" width="3.22" height="1.1" fill="#000"/>
<circle cx="633.87" cy="1298.75" r="1.75" fill="none" stroke="#000" stroke-width="1.15"/>
<path d="M639.73,1292 V1304.6 H642.4 Q644.6,1302 646.8,1304.6 H649.47 V1292" fill="none" stroke="#000" stroke-width="1.05"/>
<rect x="639.73" y="1291.4" width="3.22" height="1.1" fill="#000"/>
<rect x="646.25" y="1291.4" width="3.22" height="1.1" fill="#000"/>
<circle cx="644.6" cy="1298.75" r="1.75" fill="none" stroke="#000" stroke-width="1.15"/>
<path d="M650.47,1292 V1304.6 H653.13 Q655.33,1302 657.53,1304.6 H660.2 V1292" fill="none" stroke="#000" stroke-width="1.05"/>
<rect x="650.47" y="1291.4" width="3.22" height="1.1" fill="#000"/>
<rect x="656.98" y="1291.4" width="3.22" height="1.1" fill="#000"/>
<circle cx="655.33" cy="1298.75" r="1.75" fill="none" stroke="#000" stroke-width="1.15"/>
<path d="M661.2,1292 V1304.6 H663.87 Q666.07,1302 668.27,1304.6 H670.93 V1292" fill="none" stroke="#000" stroke-width="1.05"/>
<rect x="661.2" y="1291.4" width="3.22" height="1.1" fill="#000"/>
<rect x="667.71" y="1291.4" width="3.22" height="1.1" fill="#000"/>
<circle cx="666.07" cy="1298.75" r="1.75" fill="none" stroke="#000" stroke-width="1.15"/>
<path d="M671.93,1292 V1304.6 H674.6 Q676.8,1302 679,1304.6 H681.67 V1292" fill="none" stroke="#000" stroke-width="1.05"/>
<rect x="671.93" y="1291.4" width="3.22" height="1.1" fill="#000"/>
<rect x="678.45" y="1291.4" width="3.22" height="1.1" fill="#000"/>
<circle cx="676.8" cy="1298.75" r="1.75" fill="none" stroke="#000" stroke-width="1.15"/>
<path d="M682.67,1292 V1304.6 H685.33 Q687.53,1302 689.73,1304.6 H692.4 V1292" fill="none" stroke="#000" stroke-width="1.05"/>
<rect x="682.67" y="1291.4" width="3.22" height="1.1" fill="#000"/>
<rect x="689.18" y="1291.4" width="3.22" height="1.1" fill="#000"/>
<circle cx="687.53" cy="1298.75" r="1.75" fill="none" stroke="#000" stroke-width="1.15"/>
<rect x="627.2" y="1149.8" width="33.6" height="10.4" fill="#000"/>
<rect x="660.8" y="1150.6" width="31.8" height="7.6" fill="none" stroke="#000" stroke-width="1"/>
<text x="675.5" y="1157.7" font-size="9.3" text-anchor="middle" stroke="#000" stroke-width="0.45">F</text>
<rect x="627.2" y="1191.8" width="33.6" height="10.4" fill="#000"/>
<rect x="660.8" y="1192.6" width="31.8" height="7.6" fill="none" stroke="#000" stroke-width="1"/>
<line x1="661.9" y1="1195.5" x2="669.2" y2="1195.5" stroke="#000" stroke-width="1.5"/>
<line x1="665.2" y1="1192.2" x2="665.2" y2="1199.7" stroke="#000" stroke-width="1.5"/>
<line x1="672.7" y1="1195.5" x2="679.9" y2="1195.5" stroke="#000" stroke-width="1.6"/>
<text x="686" y="1199.3" font-size="9.4" text-anchor="middle" stroke="#000" stroke-width="0.45">S</text>
<line x1="688.7" y1="1195.5" x2="692.2" y2="1195.5" stroke="#000" stroke-width="1"/>
<rect x="627.2" y="1233.2" width="33.6" height="10.4" fill="#000"/>
<rect x="660.8" y="1234" width="31.8" height="7.6" fill="none" stroke="#000" stroke-width="1"/>
<text x="675.5" y="1241.1" font-size="9.3" text-anchor="middle" stroke="#000" stroke-width="0.45">F</text>
<rect x="627.2" y="1276.2" width="33.6" height="10.4" fill="#000"/>
<rect x="660.8" y="1277" width="31.8" height="7.6" fill="none" stroke="#000" stroke-width="1"/>
<line x1="661.9" y1="1279.9" x2="669.2" y2="1279.9" stroke="#000" stroke-width="1.5"/>
<line x1="665.2" y1="1276.6" x2="665.2" y2="1284.1" stroke="#000" stroke-width="1.5"/>
<line x1="672.7" y1="1279.9" x2="679.9" y2="1279.9" stroke="#000" stroke-width="1.6"/>
<text x="686" y="1283.7" font-size="9.4" text-anchor="middle" stroke="#000" stroke-width="0.45">S</text>
<line x1="688.7" y1="1279.9" x2="692.2" y2="1279.9" stroke="#000" stroke-width="1"/>
<rect x="627.2" y="1317.9" width="33.6" height="10.4" fill="#000"/>
<rect x="660.8" y="1318.7" width="31.8" height="7.6" fill="none" stroke="#000" stroke-width="1"/>
<text x="675.5" y="1325.8" font-size="9.3" text-anchor="middle" stroke="#000" stroke-width="0.45">F</text>
<line x1="710.6" y1="1114.5" x2="710.6" y2="1144.4" stroke="#000" stroke-width="1.2"/>
<line x1="781.2" y1="1114.5" x2="781.2" y2="1144.4" stroke="#000" stroke-width="1.2"/>
<line x1="710.6" y1="1144.4" x2="781.2" y2="1144.4" stroke="#000" stroke-width="1.2"/>
<rect x="712.4" y="1120.2" width="67.7" height="19.3" fill="none" stroke="#000" stroke-width="1.1"/>
<path d="M714.4,1124.4 V1137.9 H717.09 Q719.29,1135.3 721.49,1137.9 H724.18 V1124.4" fill="none" stroke="#000" stroke-width="1.05"/>
<rect x="714.4" y="1123.8" width="3.24" height="1.1" fill="#000"/>
<rect x="720.95" y="1123.8" width="3.24" height="1.1" fill="#000"/>
<circle cx="719.29" cy="1131.71" r="1.75" fill="none" stroke="#000" stroke-width="1.15"/>
<path d="M725.18,1124.4 V1137.9 H727.87 Q730.07,1135.3 732.27,1137.9 H734.97 V1124.4" fill="none" stroke="#000" stroke-width="1.05"/>
<rect x="725.18" y="1123.8" width="3.24" height="1.1" fill="#000"/>
<rect x="731.73" y="1123.8" width="3.24" height="1.1" fill="#000"/>
<circle cx="730.07" cy="1131.71" r="1.75" fill="none" stroke="#000" stroke-width="1.15"/>
<path d="M735.97,1124.4 V1137.9 H738.66 Q740.86,1135.3 743.06,1137.9 H745.75 V1124.4" fill="none" stroke="#000" stroke-width="1.05"/>
<rect x="735.97" y="1123.8" width="3.24" height="1.1" fill="#000"/>
<rect x="742.51" y="1123.8" width="3.24" height="1.1" fill="#000"/>
<circle cx="740.86" cy="1131.71" r="1.75" fill="none" stroke="#000" stroke-width="1.15"/>
<path d="M746.75,1124.4 V1137.9 H749.44 Q751.64,1135.3 753.84,1137.9 H756.53 V1124.4" fill="none" stroke="#000" stroke-width="1.05"/>
<rect x="746.75" y="1123.8" width="3.24" height="1.1" fill="#000"/>
<rect x="753.3" y="1123.8" width="3.24" height="1.1" fill="#000"/>
<circle cx="751.64" cy="1131.71" r="1.75" fill="none" stroke="#000" stroke-width="1.15"/>
<path d="M757.53,1124.4 V1137.9 H760.22 Q762.42,1135.3 764.62,1137.9 H767.32 V1124.4" fill="none" stroke="#000" stroke-width="1.05"/>
<rect x="757.53" y="1123.8" width="3.24" height="1.1" fill="#000"/>
<rect x="764.08" y="1123.8" width="3.24" height="1.1" fill="#000"/>
<circle cx="762.42" cy="1131.71" r="1.75" fill="none" stroke="#000" stroke-width="1.15"/>
<path d="M768.32,1124.4 V1137.9 H771.01 Q773.21,1135.3 775.41,1137.9 H778.1 V1124.4" fill="none" stroke="#000" stroke-width="1.05"/>
<rect x="768.32" y="1123.8" width="3.24" height="1.1" fill="#000"/>
<rect x="774.87" y="1123.8" width="3.24" height="1.1" fill="#000"/>
<circle cx="773.21" cy="1131.71" r="1.75" fill="none" stroke="#000" stroke-width="1.15"/>
<rect x="711.3" y="1160.7" width="70.7" height="19.6" fill="none" stroke="#000" stroke-width="1.35"/>
<polyline points="713.1,1162 713.1,1178.8 779.2,1178.8 779.2,1162" fill="none" stroke="#000" stroke-width="0.9"/>
<rect x="713.9" y="1163.2" width="64.4" height="1.4" fill="#000"/>
<path d="M714.4,1166 V1177.6 H717.07 Q719.27,1175 721.47,1177.6 H724.13 V1166" fill="none" stroke="#000" stroke-width="1.05"/>
<rect x="714.4" y="1165.4" width="3.22" height="1.1" fill="#000"/>
<rect x="720.91" y="1165.4" width="3.22" height="1.1" fill="#000"/>
<circle cx="719.27" cy="1172.13" r="1.75" fill="none" stroke="#000" stroke-width="1.15"/>
<path d="M725.13,1166 V1177.6 H727.8 Q730,1175 732.2,1177.6 H734.87 V1166" fill="none" stroke="#000" stroke-width="1.05"/>
<rect x="725.13" y="1165.4" width="3.22" height="1.1" fill="#000"/>
<rect x="731.65" y="1165.4" width="3.22" height="1.1" fill="#000"/>
<circle cx="730" cy="1172.13" r="1.75" fill="none" stroke="#000" stroke-width="1.15"/>
<path d="M735.87,1166 V1177.6 H738.53 Q740.73,1175 742.93,1177.6 H745.6 V1166" fill="none" stroke="#000" stroke-width="1.05"/>
<rect x="735.87" y="1165.4" width="3.22" height="1.1" fill="#000"/>
<rect x="742.38" y="1165.4" width="3.22" height="1.1" fill="#000"/>
<circle cx="740.73" cy="1172.13" r="1.75" fill="none" stroke="#000" stroke-width="1.15"/>
<path d="M746.6,1166 V1177.6 H749.27 Q751.47,1175 753.67,1177.6 H756.33 V1166" fill="none" stroke="#000" stroke-width="1.05"/>
<rect x="746.6" y="1165.4" width="3.22" height="1.1" fill="#000"/>
<rect x="753.11" y="1165.4" width="3.22" height="1.1" fill="#000"/>
<circle cx="751.47" cy="1172.13" r="1.75" fill="none" stroke="#000" stroke-width="1.15"/>
<path d="M757.33,1166 V1177.6 H760 Q762.2,1175 764.4,1177.6 H767.07 V1166" fill="none" stroke="#000" stroke-width="1.05"/>
<rect x="757.33" y="1165.4" width="3.22" height="1.1" fill="#000"/>
<rect x="763.85" y="1165.4" width="3.22" height="1.1" fill="#000"/>
<circle cx="762.2" cy="1172.13" r="1.75" fill="none" stroke="#000" stroke-width="1.15"/>
<path d="M768.07,1166 V1177.6 H770.73 Q772.93,1175 775.13,1177.6 H777.8 V1166" fill="none" stroke="#000" stroke-width="1.05"/>
<rect x="768.07" y="1165.4" width="3.22" height="1.1" fill="#000"/>
<rect x="774.58" y="1165.4" width="3.22" height="1.1" fill="#000"/>
<circle cx="772.93" cy="1172.13" r="1.75" fill="none" stroke="#000" stroke-width="1.15"/>
<rect x="711.3" y="1201.7" width="70.7" height="21.1" fill="none" stroke="#000" stroke-width="1.35"/>
<polyline points="713.1,1203 713.1,1221.3 779.2,1221.3 779.2,1203" fill="none" stroke="#000" stroke-width="0.9"/>
<rect x="713.9" y="1204.2" width="64.4" height="1.4" fill="#000"/>
<path d="M714.4,1207 V1220.1 H717.07 Q719.27,1217.5 721.47,1220.1 H724.13 V1207" fill="none" stroke="#000" stroke-width="1.05"/>
<rect x="714.4" y="1206.4" width="3.22" height="1.1" fill="#000"/>
<rect x="720.91" y="1206.4" width="3.22" height="1.1" fill="#000"/>
<circle cx="719.27" cy="1214.06" r="1.75" fill="none" stroke="#000" stroke-width="1.15"/>
<path d="M725.13,1207 V1220.1 H727.8 Q730,1217.5 732.2,1220.1 H734.87 V1207" fill="none" stroke="#000" stroke-width="1.05"/>
<rect x="725.13" y="1206.4" width="3.22" height="1.1" fill="#000"/>
<rect x="731.65" y="1206.4" width="3.22" height="1.1" fill="#000"/>
<circle cx="730" cy="1214.06" r="1.75" fill="none" stroke="#000" stroke-width="1.15"/>
<path d="M735.87,1207 V1220.1 H738.53 Q740.73,1217.5 742.93,1220.1 H745.6 V1207" fill="none" stroke="#000" stroke-width="1.05"/>
<rect x="735.87" y="1206.4" width="3.22" height="1.1" fill="#000"/>
<rect x="742.38" y="1206.4" width="3.22" height="1.1" fill="#000"/>
<circle cx="740.73" cy="1214.06" r="1.75" fill="none" stroke="#000" stroke-width="1.15"/>
<path d="M746.6,1207 V1220.1 H749.27 Q751.47,1217.5 753.67,1220.1 H756.33 V1207" fill="none" stroke="#000" stroke-width="1.05"/>
<rect x="746.6" y="1206.4" width="3.22" height="1.1" fill="#000"/>
<rect x="753.11" y="1206.4" width="3.22" height="1.1" fill="#000"/>
<circle cx="751.47" cy="1214.06" r="1.75" fill="none" stroke="#000" stroke-width="1.15"/>
<path d="M757.33,1207 V1220.1 H760 Q762.2,1217.5 764.4,1220.1 H767.07 V1207" fill="none" stroke="#000" stroke-width="1.05"/>
<rect x="757.33" y="1206.4" width="3.22" height="1.1" fill="#000"/>
<rect x="763.85" y="1206.4" width="3.22" height="1.1" fill="#000"/>
<circle cx="762.2" cy="1214.06" r="1.75" fill="none" stroke="#000" stroke-width="1.15"/>
<path d="M768.07,1207 V1220.1 H770.73 Q772.93,1217.5 775.13,1220.1 H777.8 V1207" fill="none" stroke="#000" stroke-width="1.05"/>
<rect x="768.07" y="1206.4" width="3.22" height="1.1" fill="#000"/>
<rect x="774.58" y="1206.4" width="3.22" height="1.1" fill="#000"/>
<circle cx="772.93" cy="1214.06" r="1.75" fill="none" stroke="#000" stroke-width="1.15"/>
<rect x="711.3" y="1245.7" width="70.7" height="20.1" fill="none" stroke="#000" stroke-width="1.35"/>
<polyline points="713.1,1247 713.1,1264.3 779.2,1264.3 779.2,1247" fill="none" stroke="#000" stroke-width="0.9"/>
<rect x="713.9" y="1248.2" width="64.4" height="1.4" fill="#000"/>
<path d="M714.4,1251 V1263.1 H717.07 Q719.27,1260.5 721.47,1263.1 H724.13 V1251" fill="none" stroke="#000" stroke-width="1.05"/>
<rect x="714.4" y="1250.4" width="3.22" height="1.1" fill="#000"/>
<rect x="720.91" y="1250.4" width="3.22" height="1.1" fill="#000"/>
<circle cx="719.27" cy="1257.44" r="1.75" fill="none" stroke="#000" stroke-width="1.15"/>
<path d="M725.13,1251 V1263.1 H727.8 Q730,1260.5 732.2,1263.1 H734.87 V1251" fill="none" stroke="#000" stroke-width="1.05"/>
<rect x="725.13" y="1250.4" width="3.22" height="1.1" fill="#000"/>
<rect x="731.65" y="1250.4" width="3.22" height="1.1" fill="#000"/>
<circle cx="730" cy="1257.44" r="1.75" fill="none" stroke="#000" stroke-width="1.15"/>
<path d="M735.87,1251 V1263.1 H738.53 Q740.73,1260.5 742.93,1263.1 H745.6 V1251" fill="none" stroke="#000" stroke-width="1.05"/>
<rect x="735.87" y="1250.4" width="3.22" height="1.1" fill="#000"/>
<rect x="742.38" y="1250.4" width="3.22" height="1.1" fill="#000"/>
<circle cx="740.73" cy="1257.44" r="1.75" fill="none" stroke="#000" stroke-width="1.15"/>
<path d="M746.6,1251 V1263.1 H749.27 Q751.47,1260.5 753.67,1263.1 H756.33 V1251" fill="none" stroke="#000" stroke-width="1.05"/>
<rect x="746.6" y="1250.4" width="3.22" height="1.1" fill="#000"/>
<rect x="753.11" y="1250.4" width="3.22" height="1.1" fill="#000"/>
<circle cx="751.47" cy="1257.44" r="1.75" fill="none" stroke="#000" stroke-width="1.15"/>
<path d="M757.33,1251 V1263.1 H760 Q762.2,1260.5 764.4,1263.1 H767.07 V1251" fill="none" stroke="#000" stroke-width="1.05"/>
<rect x="757.33" y="1250.4" width="3.22" height="1.1" fill="#000"/>
<rect x="763.85" y="1250.4" width="3.22" height="1.1" fill="#000"/>
<circle cx="762.2" cy="1257.44" r="1.75" fill="none" stroke="#000" stroke-width="1.15"/>
<path d="M768.07,1251 V1263.1 H770.73 Q772.93,1260.5 775.13,1263.1 H777.8 V1251" fill="none" stroke="#000" stroke-width="1.05"/>
<rect x="768.07" y="1250.4" width="3.22" height="1.1" fill="#000"/>
<rect x="774.58" y="1250.4" width="3.22" height="1.1" fill="#000"/>
<circle cx="772.93" cy="1257.44" r="1.75" fill="none" stroke="#000" stroke-width="1.15"/>
<rect x="711.3" y="1286.7" width="70.7" height="20.6" fill="none" stroke="#000" stroke-width="1.35"/>
<polyline points="713.1,1288 713.1,1305.8 779.2,1305.8 779.2,1288" fill="none" stroke="#000" stroke-width="0.9"/>
<rect x="713.9" y="1289.2" width="64.4" height="1.4" fill="#000"/>
<path d="M714.4,1292 V1304.6 H717.07 Q719.27,1302 721.47,1304.6 H724.13 V1292" fill="none" stroke="#000" stroke-width="1.05"/>
<rect x="714.4" y="1291.4" width="3.22" height="1.1" fill="#000"/>
<rect x="720.91" y="1291.4" width="3.22" height="1.1" fill="#000"/>
<circle cx="719.27" cy="1298.75" r="1.75" fill="none" stroke="#000" stroke-width="1.15"/>
<path d="M725.13,1292 V1304.6 H727.8 Q730,1302 732.2,1304.6 H734.87 V1292" fill="none" stroke="#000" stroke-width="1.05"/>
<rect x="725.13" y="1291.4" width="3.22" height="1.1" fill="#000"/>
<rect x="731.65" y="1291.4" width="3.22" height="1.1" fill="#000"/>
<circle cx="730" cy="1298.75" r="1.75" fill="none" stroke="#000" stroke-width="1.15"/>
<path d="M735.87,1292 V1304.6 H738.53 Q740.73,1302 742.93,1304.6 H745.6 V1292" fill="none" stroke="#000" stroke-width="1.05"/>
<rect x="735.87" y="1291.4" width="3.22" height="1.1" fill="#000"/>
<rect x="742.38" y="1291.4" width="3.22" height="1.1" fill="#000"/>
<circle cx="740.73" cy="1298.75" r="1.75" fill="none" stroke="#000" stroke-width="1.15"/>
<path d="M746.6,1292 V1304.6 H749.27 Q751.47,1302 753.67,1304.6 H756.33 V1292" fill="none" stroke="#000" stroke-width="1.05"/>
<rect x="746.6" y="1291.4" width="3.22" height="1.1" fill="#000"/>
<rect x="753.11" y="1291.4" width="3.22" height="1.1" fill="#000"/>
<circle cx="751.47" cy="1298.75" r="1.75" fill="none" stroke="#000" stroke-width="1.15"/>
<path d="M757.33,1292 V1304.6 H760 Q762.2,1302 764.4,1304.6 H767.07 V1292" fill="none" stroke="#000" stroke-width="1.05"/>
<rect x="757.33" y="1291.4" width="3.22" height="1.1" fill="#000"/>
<rect x="763.85" y="1291.4" width="3.22" height="1.1" fill="#000"/>
<circle cx="762.2" cy="1298.75" r="1.75" fill="none" stroke="#000" stroke-width="1.15"/>
<path d="M768.07,1292 V1304.6 H770.73 Q772.93,1302 775.13,1304.6 H777.8 V1292" fill="none" stroke="#000" stroke-width="1.05"/>
<rect x="768.07" y="1291.4" width="3.22" height="1.1" fill="#000"/>
<rect x="774.58" y="1291.4" width="3.22" height="1.1" fill="#000"/>
<circle cx="772.93" cy="1298.75" r="1.75" fill="none" stroke="#000" stroke-width="1.15"/>
<rect x="712.6" y="1149.8" width="33.6" height="10.4" fill="#000"/>
<rect x="746.2" y="1150.6" width="31.8" height="7.6" fill="none" stroke="#000" stroke-width="1"/>
<text x="760.9" y="1157.7" font-size="9.3" text-anchor="middle" stroke="#000" stroke-width="0.45">H</text>
<rect x="712.6" y="1191.8" width="33.6" height="10.4" fill="#000"/>
<rect x="746.2" y="1192.6" width="31.8" height="7.6" fill="none" stroke="#000" stroke-width="1"/>
<line x1="747.3" y1="1195.5" x2="754.6" y2="1195.5" stroke="#000" stroke-width="1.5"/>
<line x1="750.6" y1="1192.2" x2="750.6" y2="1199.7" stroke="#000" stroke-width="1.5"/>
<line x1="758.1" y1="1195.5" x2="765.3" y2="1195.5" stroke="#000" stroke-width="1.6"/>
<text x="771.4" y="1199.3" font-size="9.4" text-anchor="middle" stroke="#000" stroke-width="0.45">S</text>
<line x1="774.1" y1="1195.5" x2="777.6" y2="1195.5" stroke="#000" stroke-width="1"/>
<rect x="712.6" y="1233.2" width="33.6" height="10.4" fill="#000"/>
<rect x="746.2" y="1234" width="31.8" height="7.6" fill="none" stroke="#000" stroke-width="1"/>
<text x="760.9" y="1241.1" font-size="9.3" text-anchor="middle" stroke="#000" stroke-width="0.45">H</text>
<rect x="712.6" y="1276.2" width="33.6" height="10.4" fill="#000"/>
<rect x="746.2" y="1277" width="31.8" height="7.6" fill="none" stroke="#000" stroke-width="1"/>
<line x1="747.3" y1="1279.9" x2="754.6" y2="1279.9" stroke="#000" stroke-width="1.5"/>
<line x1="750.6" y1="1276.6" x2="750.6" y2="1284.1" stroke="#000" stroke-width="1.5"/>
<line x1="758.1" y1="1279.9" x2="765.3" y2="1279.9" stroke="#000" stroke-width="1.6"/>
<text x="771.4" y="1283.7" font-size="9.4" text-anchor="middle" stroke="#000" stroke-width="0.45">S</text>
<line x1="774.1" y1="1279.9" x2="777.6" y2="1279.9" stroke="#000" stroke-width="1"/>
<rect x="712.6" y="1317.9" width="33.6" height="10.4" fill="#000"/>
<rect x="746.2" y="1318.7" width="31.8" height="7.6" fill="none" stroke="#000" stroke-width="1"/>
<text x="760.9" y="1325.8" font-size="9.3" text-anchor="middle" stroke="#000" stroke-width="0.45">H</text>
<line x1="796" y1="1114.5" x2="796" y2="1144.4" stroke="#000" stroke-width="1.2"/>
<line x1="866.6" y1="1114.5" x2="866.6" y2="1144.4" stroke="#000" stroke-width="1.2"/>
<line x1="796" y1="1144.4" x2="866.6" y2="1144.4" stroke="#000" stroke-width="1.2"/>
<rect x="796.5" y="1114.4" width="3.8" height="3.9" fill="none" stroke="#000" stroke-width="1"/>
<rect x="863" y="1114.4" width="3.8" height="3.9" fill="none" stroke="#000" stroke-width="1"/>
<rect x="834" y="1118.4" width="18" height="4" fill="none" stroke="#000" stroke-width="1"/>
<line x1="834" y1="1122.4" x2="852" y2="1122.4" stroke="#000" stroke-width="1.6"/>
<rect x="797.8" y="1123.2" width="67.7" height="19.5" fill="none" stroke="#000" stroke-width="1.1"/>
<path d="M799.8,1127.4 V1140.8 H802.49 Q804.69,1138.2 806.89,1140.8 H809.58 V1127.4" fill="none" stroke="#000" stroke-width="1.05"/>
<rect x="799.8" y="1126.8" width="3.24" height="1.1" fill="#000"/>
<rect x="806.35" y="1126.8" width="3.24" height="1.1" fill="#000"/>
<circle cx="804.69" cy="1134.64" r="1.75" fill="none" stroke="#000" stroke-width="1.15"/>
<path d="M810.58,1127.4 V1140.8 H813.27 Q815.47,1138.2 817.67,1140.8 H820.37 V1127.4" fill="none" stroke="#000" stroke-width="1.05"/>
<rect x="810.58" y="1126.8" width="3.24" height="1.1" fill="#000"/>
<rect x="817.13" y="1126.8" width="3.24" height="1.1" fill="#000"/>
<circle cx="815.47" cy="1134.64" r="1.75" fill="none" stroke="#000" stroke-width="1.15"/>
<path d="M821.37,1127.4 V1140.8 H824.06 Q826.26,1138.2 828.46,1140.8 H831.15 V1127.4" fill="none" stroke="#000" stroke-width="1.05"/>
<rect x="821.37" y="1126.8" width="3.24" height="1.1" fill="#000"/>
<rect x="827.91" y="1126.8" width="3.24" height="1.1" fill="#000"/>
<circle cx="826.26" cy="1134.64" r="1.75" fill="none" stroke="#000" stroke-width="1.15"/>
<path d="M832.15,1127.4 V1140.8 H834.84 Q837.04,1138.2 839.24,1140.8 H841.93 V1127.4" fill="none" stroke="#000" stroke-width="1.05"/>
<rect x="832.15" y="1126.8" width="3.24" height="1.1" fill="#000"/>
<rect x="838.7" y="1126.8" width="3.24" height="1.1" fill="#000"/>
<circle cx="837.04" cy="1134.64" r="1.75" fill="none" stroke="#000" stroke-width="1.15"/>
<path d="M842.93,1127.4 V1140.8 H845.62 Q847.82,1138.2 850.02,1140.8 H852.72 V1127.4" fill="none" stroke="#000" stroke-width="1.05"/>
<rect x="842.93" y="1126.8" width="3.24" height="1.1" fill="#000"/>
<rect x="849.48" y="1126.8" width="3.24" height="1.1" fill="#000"/>
<circle cx="847.82" cy="1134.64" r="1.75" fill="none" stroke="#000" stroke-width="1.15"/>
<path d="M853.72,1127.4 V1140.8 H856.41 Q858.61,1138.2 860.81,1140.8 H863.5 V1127.4" fill="none" stroke="#000" stroke-width="1.05"/>
<rect x="853.72" y="1126.8" width="3.24" height="1.1" fill="#000"/>
<rect x="860.26" y="1126.8" width="3.24" height="1.1" fill="#000"/>
<circle cx="858.61" cy="1134.64" r="1.75" fill="none" stroke="#000" stroke-width="1.15"/>
<rect x="796.7" y="1160.7" width="70.7" height="19.6" fill="none" stroke="#000" stroke-width="1.35"/>
<polyline points="798.5,1162 798.5,1178.8 864.6,1178.8 864.6,1162" fill="none" stroke="#000" stroke-width="0.9"/>
<rect x="799.3" y="1163.2" width="64.4" height="1.4" fill="#000"/>
<path d="M799.8,1166 V1177.6 H802.47 Q804.67,1175 806.87,1177.6 H809.53 V1166" fill="none" stroke="#000" stroke-width="1.05"/>
<rect x="799.8" y="1165.4" width="3.22" height="1.1" fill="#000"/>
<rect x="806.31" y="1165.4" width="3.22" height="1.1" fill="#000"/>
<circle cx="804.67" cy="1172.13" r="1.75" fill="none" stroke="#000" stroke-width="1.15"/>
<path d="M810.53,1166 V1177.6 H813.2 Q815.4,1175 817.6,1177.6 H820.27 V1166" fill="none" stroke="#000" stroke-width="1.05"/>
<rect x="810.53" y="1165.4" width="3.22" height="1.1" fill="#000"/>
<rect x="817.05" y="1165.4" width="3.22" height="1.1" fill="#000"/>
<circle cx="815.4" cy="1172.13" r="1.75" fill="none" stroke="#000" stroke-width="1.15"/>
<path d="M821.27,1166 V1177.6 H823.93 Q826.13,1175 828.33,1177.6 H831 V1166" fill="none" stroke="#000" stroke-width="1.05"/>
<rect x="821.27" y="1165.4" width="3.22" height="1.1" fill="#000"/>
<rect x="827.78" y="1165.4" width="3.22" height="1.1" fill="#000"/>
<circle cx="826.13" cy="1172.13" r="1.75" fill="none" stroke="#000" stroke-width="1.15"/>
<path d="M832,1166 V1177.6 H834.67 Q836.87,1175 839.07,1177.6 H841.73 V1166" fill="none" stroke="#000" stroke-width="1.05"/>
<rect x="832" y="1165.4" width="3.22" height="1.1" fill="#000"/>
<rect x="838.51" y="1165.4" width="3.22" height="1.1" fill="#000"/>
<circle cx="836.87" cy="1172.13" r="1.75" fill="none" stroke="#000" stroke-width="1.15"/>
<path d="M842.73,1166 V1177.6 H845.4 Q847.6,1175 849.8,1177.6 H852.47 V1166" fill="none" stroke="#000" stroke-width="1.05"/>
<rect x="842.73" y="1165.4" width="3.22" height="1.1" fill="#000"/>
<rect x="849.25" y="1165.4" width="3.22" height="1.1" fill="#000"/>
<circle cx="847.6" cy="1172.13" r="1.75" fill="none" stroke="#000" stroke-width="1.15"/>
<path d="M853.47,1166 V1177.6 H856.13 Q858.33,1175 860.53,1177.6 H863.2 V1166" fill="none" stroke="#000" stroke-width="1.05"/>
<rect x="853.47" y="1165.4" width="3.22" height="1.1" fill="#000"/>
<rect x="859.98" y="1165.4" width="3.22" height="1.1" fill="#000"/>
<circle cx="858.33" cy="1172.13" r="1.75" fill="none" stroke="#000" stroke-width="1.15"/>
<rect x="796.7" y="1201.7" width="70.7" height="21.1" fill="none" stroke="#000" stroke-width="1.35"/>
<polyline points="798.5,1203 798.5,1221.3 864.6,1221.3 864.6,1203" fill="none" stroke="#000" stroke-width="0.9"/>
<rect x="799.3" y="1204.2" width="64.4" height="1.4" fill="#000"/>
<path d="M799.8,1207 V1220.1 H802.47 Q804.67,1217.5 806.87,1220.1 H809.53 V1207" fill="none" stroke="#000" stroke-width="1.05"/>
<rect x="799.8" y="1206.4" width="3.22" height="1.1" fill="#000"/>
<rect x="806.31" y="1206.4" width="3.22" height="1.1" fill="#000"/>
<circle cx="804.67" cy="1214.06" r="1.75" fill="none" stroke="#000" stroke-width="1.15"/>
<path d="M810.53,1207 V1220.1 H813.2 Q815.4,1217.5 817.6,1220.1 H820.27 V1207" fill="none" stroke="#000" stroke-width="1.05"/>
<rect x="810.53" y="1206.4" width="3.22" height="1.1" fill="#000"/>
<rect x="817.05" y="1206.4" width="3.22" height="1.1" fill="#000"/>
<circle cx="815.4" cy="1214.06" r="1.75" fill="none" stroke="#000" stroke-width="1.15"/>
<path d="M821.27,1207 V1220.1 H823.93 Q826.13,1217.5 828.33,1220.1 H831 V1207" fill="none" stroke="#000" stroke-width="1.05"/>
<rect x="821.27" y="1206.4" width="3.22" height="1.1" fill="#000"/>
<rect x="827.78" y="1206.4" width="3.22" height="1.1" fill="#000"/>
<circle cx="826.13" cy="1214.06" r="1.75" fill="none" stroke="#000" stroke-width="1.15"/>
<path d="M832,1207 V1220.1 H834.67 Q836.87,1217.5 839.07,1220.1 H841.73 V1207" fill="none" stroke="#000" stroke-width="1.05"/>
<rect x="832" y="1206.4" width="3.22" height="1.1" fill="#000"/>
<rect x="838.51" y="1206.4" width="3.22" height="1.1" fill="#000"/>
<circle cx="836.87" cy="1214.06" r="1.75" fill="none" stroke="#000" stroke-width="1.15"/>
<path d="M842.73,1207 V1220.1 H845.4 Q847.6,1217.5 849.8,1220.1 H852.47 V1207" fill="none" stroke="#000" stroke-width="1.05"/>
<rect x="842.73" y="1206.4" width="3.22" height="1.1" fill="#000"/>
<rect x="849.25" y="1206.4" width="3.22" height="1.1" fill="#000"/>
<circle cx="847.6" cy="1214.06" r="1.75" fill="none" stroke="#000" stroke-width="1.15"/>
<path d="M853.47,1207 V1220.1 H856.13 Q858.33,1217.5 860.53,1220.1 H863.2 V1207" fill="none" stroke="#000" stroke-width="1.05"/>
<rect x="853.47" y="1206.4" width="3.22" height="1.1" fill="#000"/>
<rect x="859.98" y="1206.4" width="3.22" height="1.1" fill="#000"/>
<circle cx="858.33" cy="1214.06" r="1.75" fill="none" stroke="#000" stroke-width="1.15"/>
<rect x="796.7" y="1245.7" width="70.7" height="20.1" fill="none" stroke="#000" stroke-width="1.35"/>
<polyline points="798.5,1247 798.5,1264.3 864.6,1264.3 864.6,1247" fill="none" stroke="#000" stroke-width="0.9"/>
<rect x="799.3" y="1248.2" width="64.4" height="1.4" fill="#000"/>
<path d="M799.8,1251 V1263.1 H802.47 Q804.67,1260.5 806.87,1263.1 H809.53 V1251" fill="none" stroke="#000" stroke-width="1.05"/>
<rect x="799.8" y="1250.4" width="3.22" height="1.1" fill="#000"/>
<rect x="806.31" y="1250.4" width="3.22" height="1.1" fill="#000"/>
<circle cx="804.67" cy="1257.44" r="1.75" fill="none" stroke="#000" stroke-width="1.15"/>
<path d="M810.53,1251 V1263.1 H813.2 Q815.4,1260.5 817.6,1263.1 H820.27 V1251" fill="none" stroke="#000" stroke-width="1.05"/>
<rect x="810.53" y="1250.4" width="3.22" height="1.1" fill="#000"/>
<rect x="817.05" y="1250.4" width="3.22" height="1.1" fill="#000"/>
<circle cx="815.4" cy="1257.44" r="1.75" fill="none" stroke="#000" stroke-width="1.15"/>
<path d="M821.27,1251 V1263.1 H823.93 Q826.13,1260.5 828.33,1263.1 H831 V1251" fill="none" stroke="#000" stroke-width="1.05"/>
<rect x="821.27" y="1250.4" width="3.22" height="1.1" fill="#000"/>
<rect x="827.78" y="1250.4" width="3.22" height="1.1" fill="#000"/>
<circle cx="826.13" cy="1257.44" r="1.75" fill="none" stroke="#000" stroke-width="1.15"/>
<path d="M832,1251 V1263.1 H834.67 Q836.87,1260.5 839.07,1263.1 H841.73 V1251" fill="none" stroke="#000" stroke-width="1.05"/>
<rect x="832" y="1250.4" width="3.22" height="1.1" fill="#000"/>
<rect x="838.51" y="1250.4" width="3.22" height="1.1" fill="#000"/>
<circle cx="836.87" cy="1257.44" r="1.75" fill="none" stroke="#000" stroke-width="1.15"/>
<path d="M842.73,1251 V1263.1 H845.4 Q847.6,1260.5 849.8,1263.1 H852.47 V1251" fill="none" stroke="#000" stroke-width="1.05"/>
<rect x="842.73" y="1250.4" width="3.22" height="1.1" fill="#000"/>
<rect x="849.25" y="1250.4" width="3.22" height="1.1" fill="#000"/>
<circle cx="847.6" cy="1257.44" r="1.75" fill="none" stroke="#000" stroke-width="1.15"/>
<path d="M853.47,1251 V1263.1 H856.13 Q858.33,1260.5 860.53,1263.1 H863.2 V1251" fill="none" stroke="#000" stroke-width="1.05"/>
<rect x="853.47" y="1250.4" width="3.22" height="1.1" fill="#000"/>
<rect x="859.98" y="1250.4" width="3.22" height="1.1" fill="#000"/>
<circle cx="858.33" cy="1257.44" r="1.75" fill="none" stroke="#000" stroke-width="1.15"/>
<rect x="796.7" y="1286.7" width="70.7" height="20.6" fill="none" stroke="#000" stroke-width="1.35"/>
<polyline points="798.5,1288 798.5,1305.8 864.6,1305.8 864.6,1288" fill="none" stroke="#000" stroke-width="0.9"/>
<rect x="799.3" y="1289.2" width="64.4" height="1.4" fill="#000"/>
<path d="M799.8,1292 V1304.6 H802.47 Q804.67,1302 806.87,1304.6 H809.53 V1292" fill="none" stroke="#000" stroke-width="1.05"/>
<rect x="799.8" y="1291.4" width="3.22" height="1.1" fill="#000"/>
<rect x="806.31" y="1291.4" width="3.22" height="1.1" fill="#000"/>
<circle cx="804.67" cy="1298.75" r="1.75" fill="none" stroke="#000" stroke-width="1.15"/>
<path d="M810.53,1292 V1304.6 H813.2 Q815.4,1302 817.6,1304.6 H820.27 V1292" fill="none" stroke="#000" stroke-width="1.05"/>
<rect x="810.53" y="1291.4" width="3.22" height="1.1" fill="#000"/>
<rect x="817.05" y="1291.4" width="3.22" height="1.1" fill="#000"/>
<circle cx="815.4" cy="1298.75" r="1.75" fill="none" stroke="#000" stroke-width="1.15"/>
<path d="M821.27,1292 V1304.6 H823.93 Q826.13,1302 828.33,1304.6 H831 V1292" fill="none" stroke="#000" stroke-width="1.05"/>
<rect x="821.27" y="1291.4" width="3.22" height="1.1" fill="#000"/>
<rect x="827.78" y="1291.4" width="3.22" height="1.1" fill="#000"/>
<circle cx="826.13" cy="1298.75" r="1.75" fill="none" stroke="#000" stroke-width="1.15"/>
<path d="M832,1292 V1304.6 H834.67 Q836.87,1302 839.07,1304.6 H841.73 V1292" fill="none" stroke="#000" stroke-width="1.05"/>
<rect x="832" y="1291.4" width="3.22" height="1.1" fill="#000"/>
<rect x="838.51" y="1291.4" width="3.22" height="1.1" fill="#000"/>
<circle cx="836.87" cy="1298.75" r="1.75" fill="none" stroke="#000" stroke-width="1.15"/>
<path d="M842.73,1292 V1304.6 H845.4 Q847.6,1302 849.8,1304.6 H852.47 V1292" fill="none" stroke="#000" stroke-width="1.05"/>
<rect x="842.73" y="1291.4" width="3.22" height="1.1" fill="#000"/>
<rect x="849.25" y="1291.4" width="3.22" height="1.1" fill="#000"/>
<circle cx="847.6" cy="1298.75" r="1.75" fill="none" stroke="#000" stroke-width="1.15"/>
<path d="M853.47,1292 V1304.6 H856.13 Q858.33,1302 860.53,1304.6 H863.2 V1292" fill="none" stroke="#000" stroke-width="1.05"/>
<rect x="853.47" y="1291.4" width="3.22" height="1.1" fill="#000"/>
<rect x="859.98" y="1291.4" width="3.22" height="1.1" fill="#000"/>
<circle cx="858.33" cy="1298.75" r="1.75" fill="none" stroke="#000" stroke-width="1.15"/>
<rect x="798" y="1149.8" width="33.6" height="10.4" fill="#000"/>
<rect x="831.6" y="1150.6" width="31.8" height="7.6" fill="none" stroke="#000" stroke-width="1"/>
<text x="846.3" y="1157.7" font-size="9.3" text-anchor="middle" stroke="#000" stroke-width="0.45">J</text>
<rect x="798" y="1191.8" width="33.6" height="10.4" fill="#000"/>
<rect x="831.6" y="1192.6" width="31.8" height="7.6" fill="none" stroke="#000" stroke-width="1"/>
<line x1="832.7" y1="1195.5" x2="840" y2="1195.5" stroke="#000" stroke-width="1.5"/>
<line x1="836" y1="1192.2" x2="836" y2="1199.7" stroke="#000" stroke-width="1.5"/>
<line x1="843.5" y1="1195.5" x2="850.7" y2="1195.5" stroke="#000" stroke-width="1.6"/>
<text x="856.8" y="1199.3" font-size="9.4" text-anchor="middle" stroke="#000" stroke-width="0.45">S</text>
<line x1="859.5" y1="1195.5" x2="863" y2="1195.5" stroke="#000" stroke-width="1"/>
<rect x="798" y="1233.2" width="33.6" height="10.4" fill="#000"/>
<rect x="831.6" y="1234" width="31.8" height="7.6" fill="none" stroke="#000" stroke-width="1"/>
<text x="846.3" y="1241.1" font-size="9.3" text-anchor="middle" stroke="#000" stroke-width="0.45">J</text>
<rect x="798" y="1276.2" width="33.6" height="10.4" fill="#000"/>
<rect x="831.6" y="1277" width="31.8" height="7.6" fill="none" stroke="#000" stroke-width="1"/>
<line x1="832.7" y1="1279.9" x2="840" y2="1279.9" stroke="#000" stroke-width="1.5"/>
<line x1="836" y1="1276.6" x2="836" y2="1284.1" stroke="#000" stroke-width="1.5"/>
<line x1="843.5" y1="1279.9" x2="850.7" y2="1279.9" stroke="#000" stroke-width="1.6"/>
<text x="856.8" y="1283.7" font-size="9.4" text-anchor="middle" stroke="#000" stroke-width="0.45">S</text>
<line x1="859.5" y1="1279.9" x2="863" y2="1279.9" stroke="#000" stroke-width="1"/>
<rect x="798" y="1317.9" width="33.6" height="10.4" fill="#000"/>
<rect x="831.6" y="1318.7" width="31.8" height="7.6" fill="none" stroke="#000" stroke-width="1"/>
<text x="846.3" y="1325.8" font-size="9.3" text-anchor="middle" stroke="#000" stroke-width="0.45">J</text>
</svg>
</body></html>
